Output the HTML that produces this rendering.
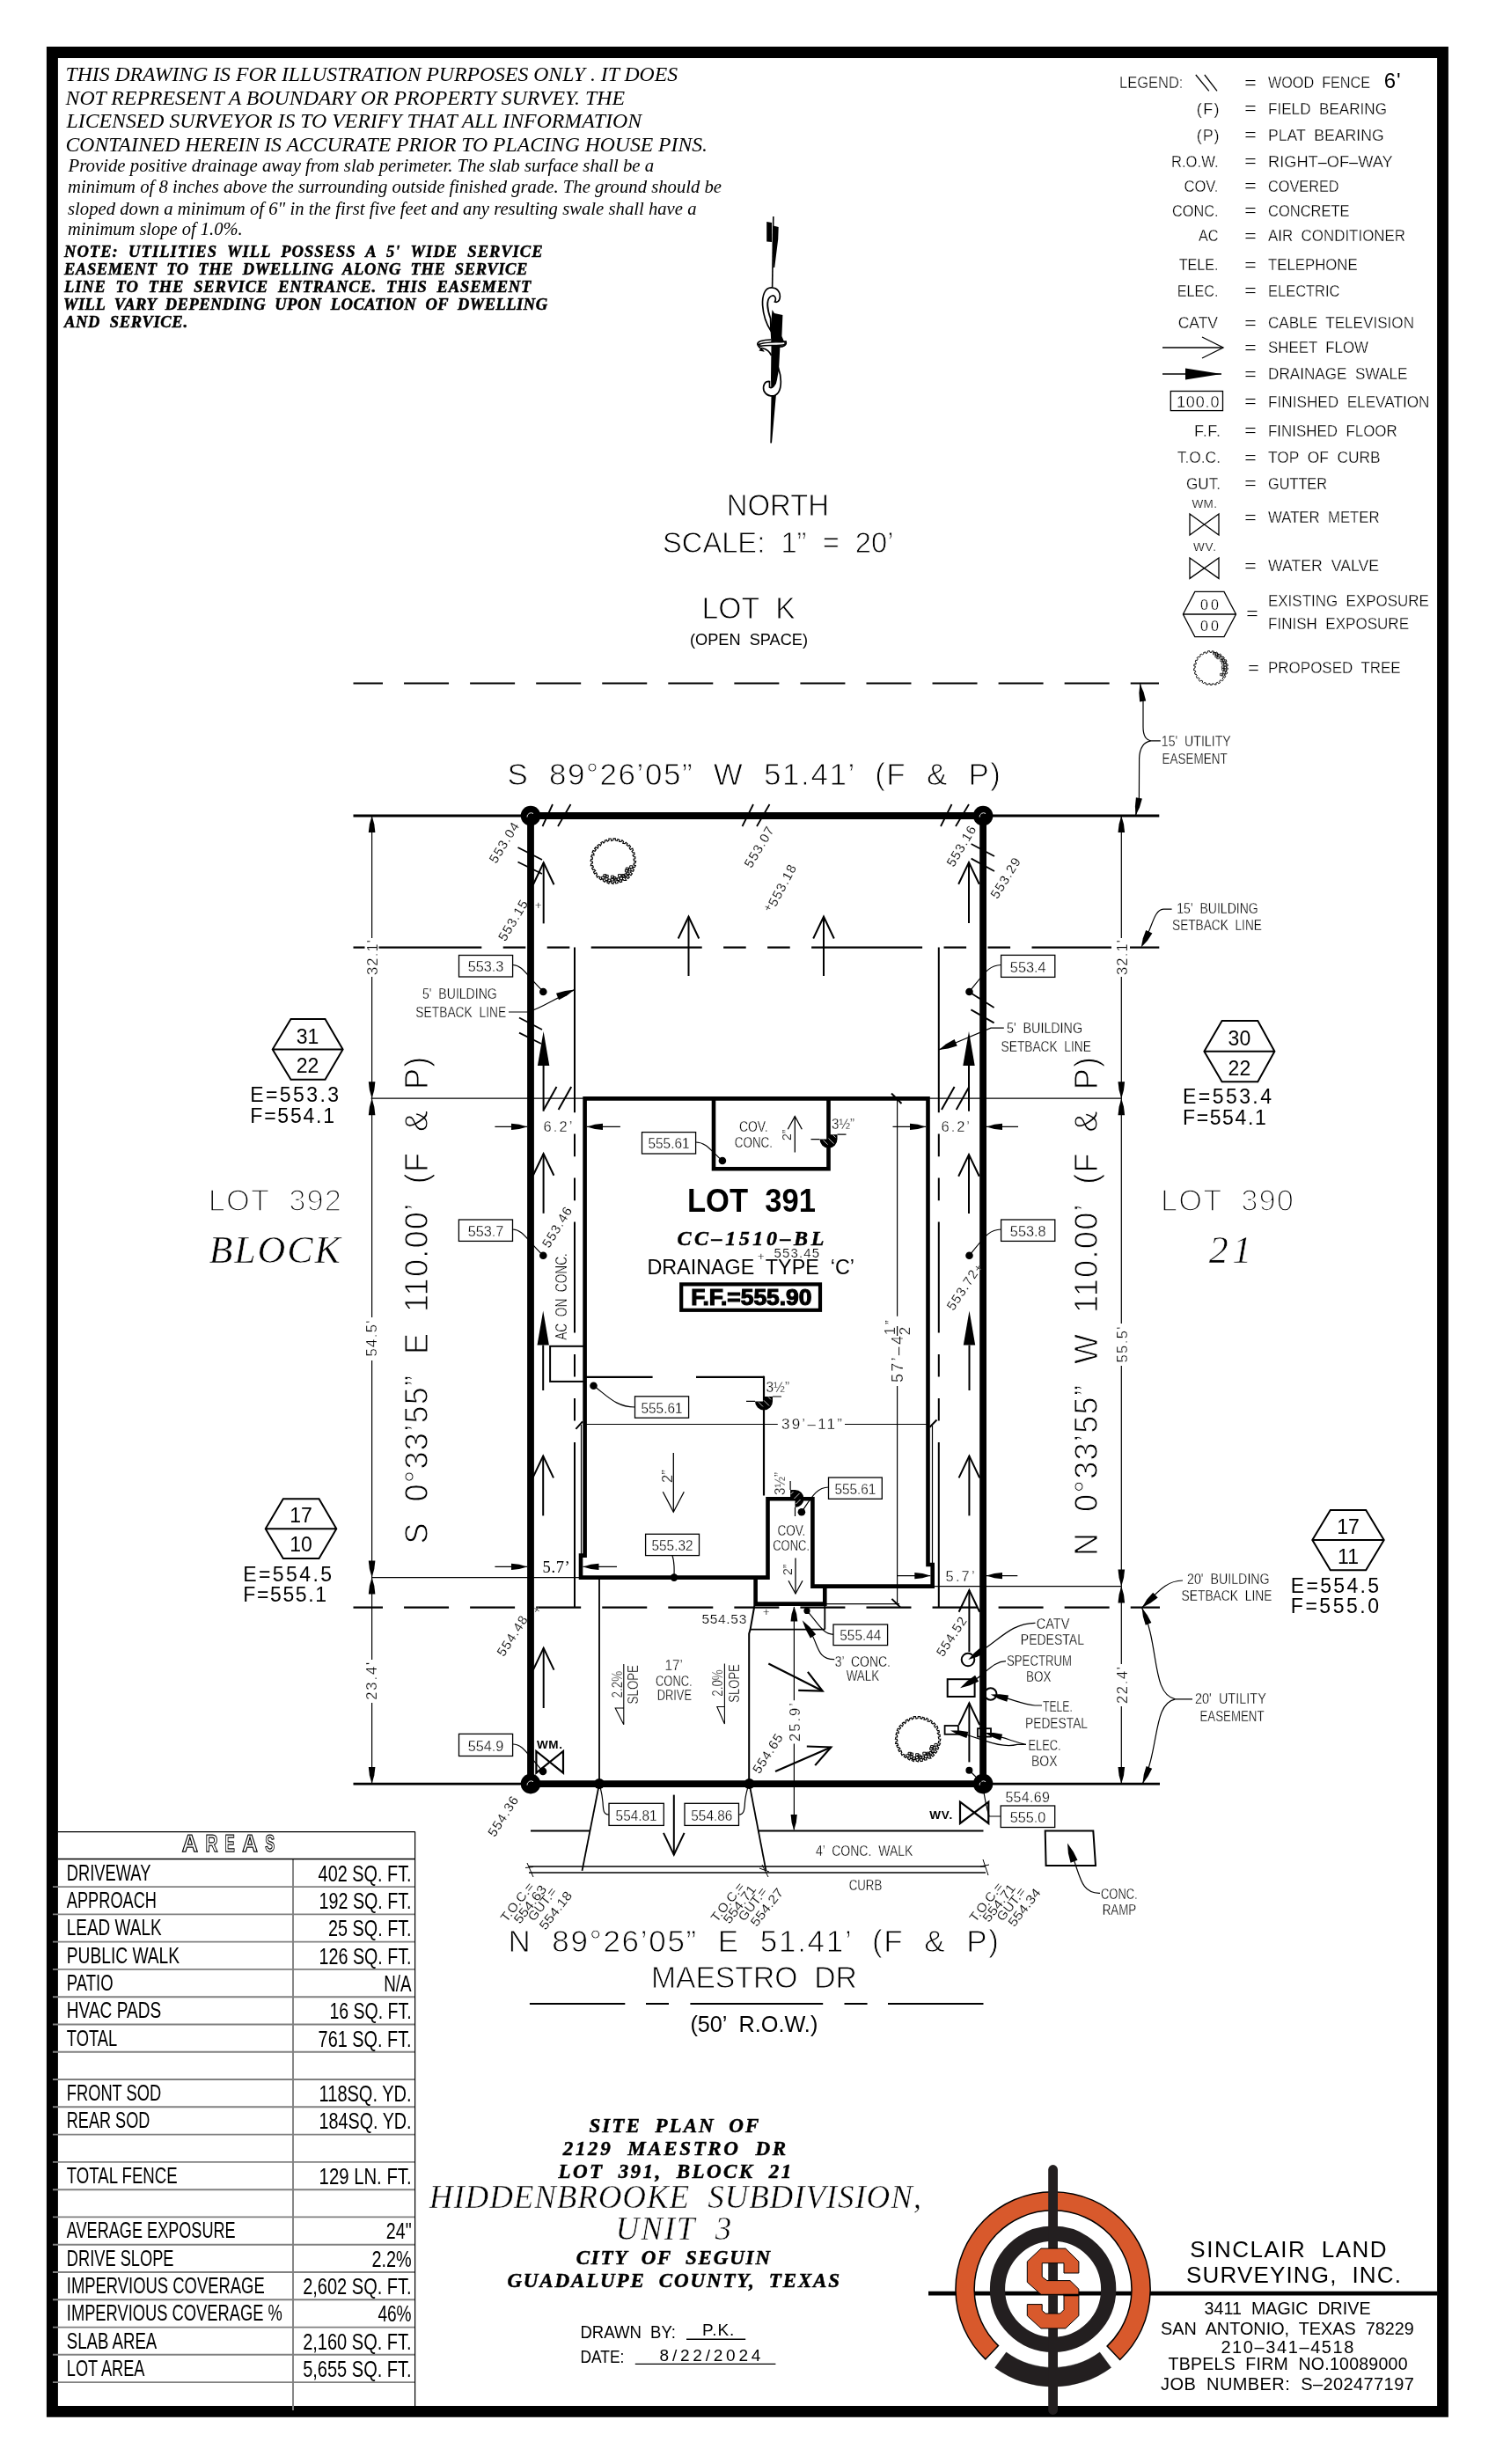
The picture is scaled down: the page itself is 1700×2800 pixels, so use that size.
<!DOCTYPE html>
<html><head><meta charset="utf-8"><title>Site Plan</title>
<style>
html,body{margin:0;padding:0;background:#fff;}
body{width:1700px;height:2800px;overflow:hidden;}
svg{display:block;will-change:transform;}
text{font-family:"Liberation Sans",sans-serif;fill:#000;stroke:none;white-space:pre;}
.c{fill:#000;stroke:#fff;stroke-width:0.3;}
.g{fill:#000;stroke:#fff;}
.b{font-weight:bold;}
.s{font-family:"Liberation Serif",serif;font-style:italic;}
.sb{font-family:"Liberation Serif",serif;font-style:italic;font-weight:bold;stroke:#000;stroke-width:0.5;}
.n{fill:#000;}
.r{font-family:"Liberation Serif",serif;}
</style></head><body>
<svg width="1700" height="2800" viewBox="0 0 1700 2800" stroke="#000" fill="none" stroke-linecap="butt">
<path d="M52.9 52.9H1645.9V2746.7H52.9Z M65.9 65.9V2734.1H1633.1V65.9Z" fill="#000" fill-rule="evenodd" stroke="none"/>
<text class="s" x="74.5" y="91.5" font-size="24" textLength="695.5" lengthAdjust="spacingAndGlyphs">THIS DRAWING IS FOR ILLUSTRATION PURPOSES ONLY . IT DOES</text>
<text class="s" x="74.5" y="118.6" font-size="24" textLength="635.5" lengthAdjust="spacingAndGlyphs">NOT REPRESENT A BOUNDARY OR PROPERTY SURVEY. THE</text>
<text class="s" x="75.5" y="145.4" font-size="24" textLength="653.5" lengthAdjust="spacingAndGlyphs">LICENSED SURVEYOR IS TO VERIFY THAT ALL INFORMATION</text>
<text class="s" x="74.5" y="171.5" font-size="24" textLength="729.5" lengthAdjust="spacingAndGlyphs">CONTAINED HEREIN IS ACCURATE PRIOR TO PLACING HOUSE PINS.</text>
<text class="s" x="77.5" y="195.4" font-size="21" textLength="665.7" lengthAdjust="spacingAndGlyphs">Provide positive drainage away from slab perimeter. The slab surface shall be a</text>
<text class="s" x="77.0" y="219.3" font-size="21" textLength="743.0" lengthAdjust="spacingAndGlyphs">minimum of 8 inches above the surrounding outside finished grade. The ground should be</text>
<text class="s" x="77.0" y="243.5" font-size="21" textLength="714.5" lengthAdjust="spacingAndGlyphs">sloped down a minimum of 6" in the first five feet and any resulting swale shall have a</text>
<text class="s" x="77.0" y="266.8" font-size="21" textLength="198.6" lengthAdjust="spacingAndGlyphs">minimum slope of 1.0%.</text>
<text class="sb" x="73.0" y="292.0" font-size="18.5" textLength="543.5" lengthAdjust="spacing">NOTE:  UTILITIES  WILL  POSSESS  A  5'  WIDE  SERVICE</text>
<text class="sb" x="73.0" y="312.3" font-size="18.5" textLength="526.4" lengthAdjust="spacing">EASEMENT  TO  THE  DWELLING  ALONG  THE  SERVICE</text>
<text class="sb" x="73.0" y="332.2" font-size="18.5" textLength="530.4" lengthAdjust="spacing">LINE  TO  THE  SERVICE  ENTRANCE.  THIS  EASEMENT</text>
<text class="sb" x="72.0" y="352.4" font-size="18.5" textLength="550.0" lengthAdjust="spacing">WILL  VARY  DEPENDING  UPON  LOCATION  OF  DWELLING</text>
<text class="sb" x="73.0" y="372.3" font-size="18.5" textLength="140.0" lengthAdjust="spacing">AND  SERVICE.</text>
<text class="c" x="1272.0" y="100.0" font-size="18" textLength="72.4" lengthAdjust="spacingAndGlyphs">LEGEND:</text>
<line x1="1358.8" y1="85.0" x2="1373.8" y2="103.4" stroke-width="1.3"/>
<line x1="1368.8" y1="85.0" x2="1383.0" y2="103.4" stroke-width="1.3"/>
<text class="c" x="1414.0" y="99.5" font-size="18" textLength="14.0" lengthAdjust="spacingAndGlyphs">=</text>
<text class="c" x="1441.0" y="100.0" font-size="18" textLength="116.0" lengthAdjust="spacingAndGlyphs">WOOD  FENCE</text>
<text class="n" x="1572.7" y="100.0" font-size="24" textLength="19.0" lengthAdjust="spacing">6'</text>
<text class="c" x="1359.8" y="129.5" font-size="18" textLength="25.7" lengthAdjust="spacing">(F)</text>
<text class="c" x="1414.0" y="129.0" font-size="18" textLength="14.0" lengthAdjust="spacingAndGlyphs">=</text>
<text class="c" x="1441.0" y="129.5" font-size="18" textLength="135.0" lengthAdjust="spacingAndGlyphs">FIELD  BEARING</text>
<text class="c" x="1359.8" y="159.6" font-size="18" textLength="25.7" lengthAdjust="spacing">(P)</text>
<text class="c" x="1414.0" y="159.1" font-size="18" textLength="14.0" lengthAdjust="spacingAndGlyphs">=</text>
<text class="c" x="1441.0" y="159.6" font-size="18" textLength="131.7" lengthAdjust="spacingAndGlyphs">PLAT  BEARING</text>
<text class="c" x="1331.0" y="189.7" font-size="18" textLength="53.5" lengthAdjust="spacingAndGlyphs">R.O.W.</text>
<text class="c" x="1414.0" y="189.2" font-size="18" textLength="14.0" lengthAdjust="spacingAndGlyphs">=</text>
<text class="c" x="1441.0" y="189.7" font-size="18" textLength="141.7" lengthAdjust="spacingAndGlyphs">RIGHT–OF–WAY</text>
<text class="c" x="1345.4" y="217.8" font-size="18" textLength="39.1" lengthAdjust="spacingAndGlyphs">COV.</text>
<text class="c" x="1414.0" y="217.3" font-size="18" textLength="14.0" lengthAdjust="spacingAndGlyphs">=</text>
<text class="c" x="1441.0" y="217.8" font-size="18" textLength="80.5" lengthAdjust="spacingAndGlyphs">COVERED</text>
<text class="c" x="1332.0" y="245.8" font-size="18" textLength="52.5" lengthAdjust="spacingAndGlyphs">CONC.</text>
<text class="c" x="1414.0" y="245.3" font-size="18" textLength="14.0" lengthAdjust="spacingAndGlyphs">=</text>
<text class="c" x="1441.0" y="245.8" font-size="18" textLength="92.6" lengthAdjust="spacingAndGlyphs">CONCRETE</text>
<text class="c" x="1362.0" y="274.0" font-size="18" textLength="22.5" lengthAdjust="spacingAndGlyphs">AC</text>
<text class="c" x="1414.0" y="273.5" font-size="18" textLength="14.0" lengthAdjust="spacingAndGlyphs">=</text>
<text class="c" x="1441.0" y="274.0" font-size="18" textLength="156.0" lengthAdjust="spacingAndGlyphs">AIR  CONDITIONER</text>
<text class="c" x="1339.7" y="307.0" font-size="18" textLength="44.8" lengthAdjust="spacingAndGlyphs">TELE.</text>
<text class="c" x="1414.0" y="306.5" font-size="18" textLength="14.0" lengthAdjust="spacingAndGlyphs">=</text>
<text class="c" x="1441.0" y="307.0" font-size="18" textLength="101.6" lengthAdjust="spacingAndGlyphs">TELEPHONE</text>
<text class="c" x="1337.7" y="336.7" font-size="18" textLength="46.8" lengthAdjust="spacingAndGlyphs">ELEC.</text>
<text class="c" x="1414.0" y="336.2" font-size="18" textLength="14.0" lengthAdjust="spacingAndGlyphs">=</text>
<text class="c" x="1441.0" y="336.7" font-size="18" textLength="81.5" lengthAdjust="spacingAndGlyphs">ELECTRIC</text>
<text class="c" x="1338.7" y="373.0" font-size="18" textLength="45.3" lengthAdjust="spacingAndGlyphs">CATV</text>
<text class="c" x="1414.0" y="372.5" font-size="18" textLength="14.0" lengthAdjust="spacingAndGlyphs">=</text>
<text class="c" x="1441.0" y="373.0" font-size="18" textLength="166.0" lengthAdjust="spacingAndGlyphs">CABLE  TELEVISION</text>
<text class="c" x="1414.0" y="400.5" font-size="18" textLength="14.0" lengthAdjust="spacingAndGlyphs">=</text>
<text class="c" x="1441.0" y="401.0" font-size="18" textLength="114.0" lengthAdjust="spacingAndGlyphs">SHEET  FLOW</text>
<line x1="1321.0" y1="395.0" x2="1390.0" y2="395.0" stroke-width="1.3"/>
<path d="M1366 383L1390 395L1366 407" stroke-width="1.3" fill="none"/>
<text class="c" x="1414.0" y="430.5" font-size="18" textLength="14.0" lengthAdjust="spacingAndGlyphs">=</text>
<text class="c" x="1441.0" y="431.0" font-size="18" textLength="158.4" lengthAdjust="spacingAndGlyphs">DRAINAGE  SWALE</text>
<line x1="1321.0" y1="425.0" x2="1388.0" y2="425.0" stroke-width="1.5"/>
<path d="M1388 425L1347 418.5L1347 431.5Z" fill="#000" stroke="none"/>
<text class="c" x="1414.0" y="462.0" font-size="18" textLength="14.0" lengthAdjust="spacingAndGlyphs">=</text>
<text class="c" x="1441.0" y="462.5" font-size="18" textLength="183.5" lengthAdjust="spacingAndGlyphs">FINISHED  ELEVATION</text>
<rect x="1330.3" y="444.5" width="59.2" height="22.1" stroke-width="1.3"/>
<text class="c" x="1337.0" y="462.5" font-size="18" textLength="48.5" lengthAdjust="spacing">100.0</text>
<text class="c" x="1357.0" y="495.6" font-size="18" textLength="30.0" lengthAdjust="spacing">F.F.</text>
<text class="c" x="1414.0" y="495.1" font-size="18" textLength="14.0" lengthAdjust="spacingAndGlyphs">=</text>
<text class="c" x="1441.0" y="495.6" font-size="18" textLength="146.7" lengthAdjust="spacingAndGlyphs">FINISHED  FLOOR</text>
<text class="c" x="1337.7" y="526.4" font-size="18" textLength="49.3" lengthAdjust="spacingAndGlyphs">T.O.C.</text>
<text class="c" x="1414.0" y="525.9" font-size="18" textLength="14.0" lengthAdjust="spacingAndGlyphs">=</text>
<text class="c" x="1441.0" y="526.4" font-size="18" textLength="127.6" lengthAdjust="spacingAndGlyphs">TOP  OF  CURB</text>
<text class="c" x="1348.0" y="555.8" font-size="18" textLength="39.0" lengthAdjust="spacingAndGlyphs">GUT.</text>
<text class="c" x="1414.0" y="555.3" font-size="18" textLength="14.0" lengthAdjust="spacingAndGlyphs">=</text>
<text class="c" x="1441.0" y="555.8" font-size="18" textLength="67.0" lengthAdjust="spacingAndGlyphs">GUTTER</text>
<text class="c" x="1354.4" y="576.5" font-size="13.5" textLength="28.6" lengthAdjust="spacing" style="stroke-width:0.2">WM.</text>
<path d="M1352 584L1385 608L1385 584L1352 608Z" stroke-width="1.3" fill="none"/>
<text class="c" x="1414.0" y="593.5" font-size="18" textLength="14.0" lengthAdjust="spacingAndGlyphs">=</text>
<text class="c" x="1441.0" y="594.0" font-size="18" textLength="126.6" lengthAdjust="spacingAndGlyphs">WATER  METER</text>
<text class="c" x="1356.0" y="625.6" font-size="13.5" textLength="26.0" lengthAdjust="spacing" style="stroke-width:0.2">WV.</text>
<path d="M1352 634L1385 657.4L1385 634L1352 657.4Z" stroke-width="1.3" fill="none"/>
<text class="c" x="1414.0" y="648.5" font-size="18" textLength="14.0" lengthAdjust="spacingAndGlyphs">=</text>
<text class="c" x="1441.0" y="649.0" font-size="18" textLength="126.0" lengthAdjust="spacingAndGlyphs">WATER  VALVE</text>
<path d="M1344.4 698L1357.8 672.4L1391 672.4L1404.5 698L1391 723.6L1357.8 723.6Z M1344.4 698L1404.5 698" stroke-width="1.3" fill="none"/>
<text class="c" x="1364.0" y="692.5" font-size="16" textLength="21.0" lengthAdjust="spacing">00</text>
<text class="c" x="1364.0" y="716.6" font-size="16" textLength="21.0" lengthAdjust="spacing">00</text>
<text class="c" x="1416.0" y="703.0" font-size="18" textLength="14.0" lengthAdjust="spacingAndGlyphs">=</text>
<text class="c" x="1441.0" y="689.0" font-size="18" textLength="182.8" lengthAdjust="spacingAndGlyphs">EXISTING  EXPOSURE</text>
<text class="c" x="1441.0" y="715.0" font-size="18" textLength="160.0" lengthAdjust="spacingAndGlyphs">FINISH  EXPOSURE</text>
<path d="M1395.4 759.2L1394.8 761.3L1393.7 761.4L1393.2 763.4L1394.9 764.1L1393.9 766.0L1392.2 765.6L1391.9 767.7L1392.8 768.4L1391.7 770.3L1390.1 769.4L1389.1 771.2L1390.2 772.5L1388.6 774.1L1387.1 772.6L1385.7 774.1L1386.5 775.8L1384.6 776.8L1383.6 775.3L1381.8 776.2L1382.1 778.1L1379.8 777.7L1379.4 776.9L1377.3 777.0L1377.2 778.4L1375.0 778.1L1374.9 776.7L1372.8 777.2L1372.4 778.2L1370.3 777.6L1370.5 776.2L1368.6 775.5L1367.7 776.9L1366.1 775.3L1366.7 773.9L1364.8 773.1L1363.5 774.4L1362.2 772.5L1363.2 771.2L1361.5 770.0L1360.2 770.7L1359.4 768.6L1360.3 767.8L1359.2 766.1L1358.0 766.3L1357.4 764.2L1358.8 763.6L1357.9 761.7L1356.4 761.7L1356.9 759.4L1357.9 759.2L1358.4 757.2L1356.7 756.8L1357.1 754.6L1359.1 754.9L1359.2 752.8L1358.2 752.1L1358.9 750.1L1360.3 750.6L1361.2 748.8L1360.0 747.6L1361.9 746.3L1363.0 747.0L1364.3 745.4L1363.5 744.1L1365.5 743.1L1366.4 744.0L1368.0 742.7L1367.7 741.5L1369.8 740.9L1370.6 742.7L1372.4 741.4L1372.3 739.9L1374.5 739.6L1374.9 741.3L1376.9 741.4L1377.2 739.8L1379.4 740.1L1379.3 742.2L1381.3 742.0L1382.0 740.9L1383.8 742.0L1383.4 743.5L1385.6 743.7L1386.3 742.9L1388.0 744.4L1387.2 745.6L1389.2 746.5L1390.0 746.0L1391.4 747.7L1390.4 748.8L1391.9 750.2L1393.3 749.7L1394.0 751.8L1392.3 752.7L1393.3 754.5L1394.8 754.4L1395.3 756.5L1393.9 756.9L1393.8 759.0Z" stroke-width="0.95" fill="none"/>
<path d="M1378.5 741.5l2.8 0l0 2.4l-2.8 0zM1381.4 742.8l2.8 0l0 2.4l-2.8 0zM1380.9 744.6l2.8 0l0 2.4l-2.8 0zM1383.7 744.3l2.8 0l0 2.4l-2.8 0zM1382.8 746.3l2.8 0l0 2.4l-2.8 0zM1387.2 746.6l2.8 0l0 2.4l-2.8 0zM1388.5 748.9l2.8 0l0 2.4l-2.8 0zM1386.8 749.4l2.8 0l0 2.4l-2.8 0zM1390.4 751.7l2.8 0l0 2.4l-2.8 0zM1388.3 752.6l2.8 0l0 2.4l-2.8 0zM1390.7 754.2l2.8 0l0 2.4l-2.8 0zM1390.7 757.4l2.8 0l0 2.4l-2.8 0zM1388.4 756.8l2.8 0l0 2.4l-2.8 0zM1390.6 759.9l2.8 0l0 2.4l-2.8 0zM1388.6 759.4l2.8 0l0 2.4l-2.8 0zM1389.7 762.8l2.8 0l0 2.4l-2.8 0zM1388.6 765.8l2.8 0l0 2.4l-2.8 0zM1386.5 765.3l2.8 0l0 2.4l-2.8 0z" stroke-width="0.75" fill="none"/>
<text class="c" x="1418.0" y="764.5" font-size="18" textLength="13.0" lengthAdjust="spacingAndGlyphs">=</text>
<text class="c" x="1441.0" y="765.0" font-size="18" textLength="150.7" lengthAdjust="spacingAndGlyphs">PROPOSED  TREE</text>
<line x1="878.8" y1="246.0" x2="877.6" y2="328.0" stroke-width="1.6"/>
<path d="M871.2 252L877 253L877 275L871.2 274.5Z M878.8 256.5L884.7 258L884.2 272L880.2 304L878.6 304Z" fill="#000" stroke="none"/>
<path d="M877.5 352L880 356L889.4 358L888.4 382L891 388L886.5 392L884.5 430L881.8 450L877 503.5L875.3 503.5L876.5 450L876 430L876.5 392L875.5 374Z" fill="#000" stroke="none"/>
<path d="M877.6 327C869 326 866 336 866.6 347C867.5 360 872 370 876 376L875.6 362C872 352 871 342 874.5 338C879 333 883 338 880.5 343C886 345 888.5 336 884 330C882 327.5 879.5 327 877.6 327Z" stroke-width="1.7" fill="#fff"/>
<path d="M876 386C866 386 860.8 388.5 860.8 391C861 394 866 397 867 398.5L864 398L866 395.5C872 397 875 400 876.5 404 M861.5 392C866 389.5 880 389.5 893 388C894.5 392 890 394.5 884 394" stroke-width="1.7" fill="none"/>
<path d="M863 391.3C870 388 885 389.5 892 388.3L892 391.5C884 393.5 870 391.5 864 393.5Z" fill="#fff" stroke="#000" stroke-width="1.4"/>
<path d="M884.5 418C888 428 888.5 440 884.5 446C880 452 871.5 451 868 444C866.5 438 869 433 874.5 433.5L874.5 440C877 442 881.5 438 882 432Z" stroke-width="1.7" fill="#fff"/>
<text class="c" x="825.7" y="586.0" font-size="34.5" textLength="116.3" lengthAdjust="spacingAndGlyphs" style="stroke-width:0.90">NORTH</text>
<text class="c" x="753.0" y="627.8" font-size="33" textLength="262.5" lengthAdjust="spacingAndGlyphs" style="stroke-width:0.86">SCALE:  1”  =  20’</text>
<text class="c" x="797.6" y="703.4" font-size="34.5" textLength="106.1" lengthAdjust="spacingAndGlyphs" style="stroke-width:0.90">LOT  K</text>
<text class="n" x="784.0" y="733.2" font-size="19" textLength="134.0" lengthAdjust="spacingAndGlyphs">(OPEN  SPACE)</text>
<line x1="401.5" y1="776.5" x2="1317" y2="776.5" stroke-width="2.2" stroke-dasharray="51 24.06" stroke-dashoffset="17.5"/>
<line x1="401.5" y1="1076.6" x2="1317.3" y2="1076.6" stroke-width="2.2" stroke-dasharray="145.8 24.4 25.6 24.4 25.6 24.4 126 24.4 25.6 24.4 25.6 24.4 126 24.4 25.6 24.4 25.6 24.4 146"/>
<line x1="401.5" y1="1826.6" x2="1318" y2="1826.6" stroke-width="2.2" stroke-dasharray="51 24.06" stroke-dashoffset="17.5"/>
<line x1="653" y1="1076.6" x2="653" y2="1826.6" stroke-width="2" stroke-dasharray="187.6 24.4 25.6 24.4 25.6 24.4 126 24.4 25.6 24.4 25.6 24.4 188"/>
<line x1="1066.8" y1="1076.6" x2="1066.8" y2="1826.6" stroke-width="2" stroke-dasharray="187.6 24.4 25.6 24.4 25.6 24.4 126 24.4 25.6 24.4 25.6 24.4 188"/>
<line x1="421.6" y1="1248.2" x2="664.0" y2="1248.2" stroke-width="1.2"/>
<line x1="1054.5" y1="1248.2" x2="1274.6" y2="1248.2" stroke-width="1.2"/>
<line x1="422.0" y1="1792.6" x2="660.0" y2="1792.6" stroke-width="1.2"/>
<line x1="1059.7" y1="1802.6" x2="1274.6" y2="1802.6" stroke-width="1.2"/>
<line x1="422.6" y1="927.0" x2="422.6" y2="1066.0" stroke-width="1.2"/>
<line x1="422.6" y1="1110.0" x2="422.6" y2="1497.0" stroke-width="1.2"/>
<line x1="422.6" y1="1546.0" x2="422.6" y2="1886.0" stroke-width="1.2"/>
<line x1="422.6" y1="1935.0" x2="422.6" y2="2027.0" stroke-width="1.2"/>
<path d="M422.6 927.0L425.3 936.5L426.4 946.0L418.8 946.0L419.9 936.5Z" fill="#000" stroke="none"/>
<path d="M422.6 1248.2L419.9 1238.7L418.8 1229.2L426.4 1229.2L425.3 1238.7Z" fill="#000" stroke="none"/>
<path d="M422.6 1248.2L425.3 1257.7L426.4 1267.2L418.8 1267.2L419.9 1257.7Z" fill="#000" stroke="none"/>
<path d="M422.6 1792.6L419.9 1783.1L418.8 1773.6L426.4 1773.6L425.3 1783.1Z" fill="#000" stroke="none"/>
<path d="M422.6 1792.6L425.3 1802.1L426.4 1811.6L418.8 1811.6L419.9 1802.1Z" fill="#000" stroke="none"/>
<path d="M422.6 2027.0L419.9 2017.5L418.8 2008.0L426.4 2008.0L425.3 2017.5Z" fill="#000" stroke="none"/>
<rect x="414.5" y="1072" width="16" height="9" fill="#fff" stroke="none"/>
<text class="c" font-size="16.5" text-anchor="middle" textLength="40.0" lengthAdjust="spacing" transform="translate(422.8 1088.0) rotate(-90)" x="0" y="5.9">32.1'</text>
<text class="c" font-size="16.5" text-anchor="middle" textLength="41.0" lengthAdjust="spacing" transform="translate(422.3 1521.0) rotate(-90)" x="0" y="5.9">54.5'</text>
<text class="c" font-size="16.5" text-anchor="middle" textLength="43.0" lengthAdjust="spacing" transform="translate(422.3 1910.3) rotate(-90)" x="0" y="5.9">23.4'</text>
<line x1="1274.3" y1="927.0" x2="1274.3" y2="1066.0" stroke-width="1.2"/>
<line x1="1274.3" y1="1110.0" x2="1274.3" y2="1504.0" stroke-width="1.2"/>
<line x1="1274.3" y1="1552.0" x2="1274.3" y2="1802.6" stroke-width="1.2"/>
<line x1="1274.3" y1="1802.6" x2="1274.3" y2="1891.0" stroke-width="1.2"/>
<line x1="1274.3" y1="1939.0" x2="1274.3" y2="2027.0" stroke-width="1.2"/>
<path d="M1274.3 927.0L1277.0 936.5L1278.1 946.0L1270.5 946.0L1271.6 936.5Z" fill="#000" stroke="none"/>
<path d="M1274.3 1248.2L1271.6 1238.7L1270.5 1229.2L1278.1 1229.2L1277.0 1238.7Z" fill="#000" stroke="none"/>
<path d="M1274.3 1248.2L1277.0 1257.7L1278.1 1267.2L1270.5 1267.2L1271.6 1257.7Z" fill="#000" stroke="none"/>
<path d="M1274.3 1802.6L1271.6 1793.1L1270.5 1783.6L1278.1 1783.6L1277.0 1793.1Z" fill="#000" stroke="none"/>
<path d="M1274.3 1802.6L1277.0 1812.1L1278.1 1821.6L1270.5 1821.6L1271.6 1812.1Z" fill="#000" stroke="none"/>
<path d="M1274.3 2027.0L1271.6 2017.5L1270.5 2008.0L1278.1 2008.0L1277.0 2017.5Z" fill="#000" stroke="none"/>
<rect x="1263" y="1072" width="21" height="9" fill="#fff" stroke="none"/>
<text class="c" font-size="16.5" text-anchor="middle" textLength="40.0" lengthAdjust="spacing" transform="translate(1274.8 1088.0) rotate(-90)" x="0" y="5.9">32.1'</text>
<text class="c" font-size="16.5" text-anchor="middle" textLength="41.0" lengthAdjust="spacing" transform="translate(1274.6 1528.0) rotate(-90)" x="0" y="5.9">55.5'</text>
<text class="c" font-size="16.5" text-anchor="middle" textLength="42.0" lengthAdjust="spacing" transform="translate(1274.6 1915.0) rotate(-90)" x="0" y="5.9">22.4'</text>
<line x1="401.5" y1="927.0" x2="603.0" y2="927.0" stroke-width="2.8"/>
<line x1="1117.0" y1="927.0" x2="1317.3" y2="927.0" stroke-width="2.8"/>
<line x1="401.5" y1="2027.1" x2="603.0" y2="2027.1" stroke-width="2.8"/>
<line x1="1117.0" y1="2027.1" x2="1318.0" y2="2027.1" stroke-width="2.8"/>
<path d="M603 927H1117.1V2027.1H603Z" stroke-width="7.8"/>
<circle cx="603" cy="927" r="11.3" fill="#000" stroke="none"/>
<path d="M599.0 928.5a4.5 4.5 0 0 1 7 -4" stroke="#fff" stroke-width="0.9"/>
<circle cx="1117.1" cy="927" r="11.3" fill="#000" stroke="none"/>
<path d="M1113.1 928.5a4.5 4.5 0 0 1 7 -4" stroke="#fff" stroke-width="0.9"/>
<circle cx="603" cy="2027.1" r="11.3" fill="#000" stroke="none"/>
<path d="M599.0 2028.6a4.5 4.5 0 0 1 7 -4" stroke="#fff" stroke-width="0.9"/>
<circle cx="1117.1" cy="2027.1" r="11.3" fill="#000" stroke="none"/>
<path d="M1113.1 2028.6a4.5 4.5 0 0 1 7 -4" stroke="#fff" stroke-width="0.9"/>
<text class="c" x="576.4" y="892.0" font-size="35" textLength="560.6" lengthAdjust="spacing" style="stroke-width:0.91">S  89°26’05”  W  51.41’  (F  &amp;  P)</text>
<text class="c" x="577.5" y="2218.0" font-size="35" textLength="557.5" lengthAdjust="spacing" style="stroke-width:0.91">N  89°26’05”  E  51.41’  (F  &amp;  P)</text>
<text class="c" x="486.0" y="1754.4" font-size="36" textLength="553.6" lengthAdjust="spacing" transform="rotate(-90 486.0 1754.4)" style="stroke-width:0.94">S  0°33’55”  E  110.00’  (F  &amp;  P)</text>
<text class="c" x="1246.8" y="1768.0" font-size="36" textLength="567.0" lengthAdjust="spacing" transform="rotate(-90 1246.8 1768.0)" style="stroke-width:0.94">N  0°33’55”  W  110.00’  (F  &amp;  P)</text>
<path d="M664.6 1248.4H1054.5V1778H1059.7V1802.6H923.4V1703.2H872.5V1792.6H660V1767.6H664.6Z" stroke-width="4.6" fill="none" stroke-linejoin="miter"/>
<path d="M811 1248.4V1328.3H941.5V1248.4" stroke-width="4.6" fill="none"/>
<path d="M858.6 1792.6V1822.6H937.3V1802.6" stroke-width="4.6" fill="none"/>
<line x1="660.5" y1="1618.8" x2="660.5" y2="1767.6" stroke-width="1.2"/>
<line x1="1059.5" y1="1620.0" x2="1059.5" y2="1778.0" stroke-width="1.2"/>
<line x1="664.0" y1="1564.8" x2="741.6" y2="1564.8" stroke-width="2.2"/>
<line x1="791.0" y1="1564.8" x2="868.0" y2="1564.8" stroke-width="2.2"/>
<line x1="868.0" y1="1563.7" x2="868.0" y2="1699.5" stroke-width="2.2"/>
<rect x="625.1" y="1529.8" width="39" height="40.1" stroke-width="2"/>
<text class="c" x="644.1" y="1522.8" font-size="18" textLength="98.7" lengthAdjust="spacingAndGlyphs" transform="rotate(-90 644.1 1522.8)">AC  ON  CONC.</text>
<line x1="664.0" y1="1618.5" x2="883.8" y2="1618.5" stroke-width="1.2"/>
<line x1="960.0" y1="1618.5" x2="1054.5" y2="1618.5" stroke-width="1.2"/>
<line x1="654.4" y1="1623.9" x2="662.0" y2="1615.4" stroke-width="2"/>
<line x1="1056.5" y1="1621.7" x2="1064.5" y2="1613.5" stroke-width="2"/>
<text class="c" x="887.9" y="1624.4" font-size="17" textLength="69.1" lengthAdjust="spacing">39’–11”</text>
<line x1="1019.6" y1="1248.4" x2="1019.6" y2="1495.7" stroke-width="1.2"/>
<line x1="1019.6" y1="1574.9" x2="1019.6" y2="1822.7" stroke-width="1.2"/>
<line x1="1013.0" y1="1242.5" x2="1024.5" y2="1254.0" stroke-width="2"/>
<line x1="1013.4" y1="1816.9" x2="1023.0" y2="1826.4" stroke-width="2"/>
<line x1="937.3" y1="1822.7" x2="1022.0" y2="1822.7" stroke-width="1.2"/>
<text class="c" x="1026.1" y="1570.9" font-size="18" textLength="53.0" lengthAdjust="spacing" transform="rotate(-90 1026.1 1570.9)">57’–4</text>
<text class="c" x="1017.4" y="1517.2" font-size="17" transform="rotate(-90 1017.4 1517.2)">1</text>
<text class="c" x="1033.8" y="1517.2" font-size="17" transform="rotate(-90 1033.8 1517.2)">2</text>
<line x1="1019.6" y1="1507.0" x2="1019.6" y2="1518.0" stroke-width="1.2"/>
<text class="c" x="1015.5" y="1505.0" font-size="14" transform="rotate(-90 1015.5 1505.0)" style="stroke-width:0.2">”</text>
<text class="b" x="781.0" y="1377.0" font-size="36" textLength="146.0" lengthAdjust="spacingAndGlyphs">LOT  391</text>
<text class="sb" x="769.4" y="1415.2" font-size="24" textLength="166.9" lengthAdjust="spacing">CC–1510–BL</text>
<text class="n" x="735.4" y="1447.6" font-size="23" textLength="235.6" lengthAdjust="spacingAndGlyphs">DRAINAGE  TYPE  ‘C’</text>
<text class="c" x="879.6" y="1429.0" font-size="15" textLength="51.4" lengthAdjust="spacing" style="stroke-width:0.2">553.45</text>
<text class="c" x="861.0" y="1432.0" font-size="13" style="stroke-width:0.2">+</text>
<rect x="774.2" y="1459.4" width="157.8" height="29.4" stroke-width="4.2"/>
<text class="b" x="785.2" y="1483.4" font-size="26.5" textLength="137.3" lengthAdjust="spacingAndGlyphs" style="stroke:#000;stroke-width:1.2">F.F.=555.90</text>
<text class="c" x="840.0" y="1286.0" font-size="17" textLength="32.7" lengthAdjust="spacingAndGlyphs">COV.</text>
<text class="c" x="834.8" y="1304.0" font-size="17" textLength="43.2" lengthAdjust="spacingAndGlyphs">CONC.</text>
<text class="c" x="883.4" y="1745.0" font-size="17" textLength="32.0" lengthAdjust="spacingAndGlyphs">COV.</text>
<text class="c" x="878.2" y="1762.4" font-size="17" textLength="41.8" lengthAdjust="spacingAndGlyphs">CONC.</text>
<line x1="903.3" y1="1309.6" x2="903.3" y2="1268.5" stroke-width="1.3"/>
<path d="M911.3 1283.2L903.3 1268.5L895.3 1283.2" stroke-width="1.3" fill="none"/>
<text class="c" x="899.0" y="1296.0" font-size="14" transform="rotate(-90 899.0 1296.0)" style="stroke-width:0.2">2”</text>
<line x1="765.3" y1="1651.0" x2="765.3" y2="1718.2" stroke-width="1.3"/>
<path d="M753.3 1695.2L765.3 1718.2L777.3 1695.2" stroke-width="1.3" fill="none"/>
<text class="c" x="764.0" y="1685.0" font-size="16.5" transform="rotate(-90 764.0 1685.0)">2”</text>
<line x1="904.0" y1="1770.4" x2="904.0" y2="1811.0" stroke-width="1.3"/>
<path d="M896.0 1796.3L904.0 1811.0L912.0 1796.3" stroke-width="1.3" fill="none"/>
<text class="c" x="899.5" y="1790.0" font-size="14" transform="rotate(-90 899.5 1790.0)" style="stroke-width:0.2">2”</text>
<g transform="translate(941.5 1294.6) rotate(0)"><path d="M-10 0A10 10 0 0 0 10 0V-5.4H0V0Z" fill="#000" stroke="none"/><path d="M-6 1l5 5M0 -1l6 6M5 -5l3 3" stroke="#fff" stroke-width="0.8"/><path d="M-20 0H-10M10 -5.4H20" stroke-width="1.2"/></g>
<g transform="translate(868 1592.4) rotate(0)"><path d="M-10 0A10 10 0 0 0 10 0V-5.4H0V0Z" fill="#000" stroke="none"/><path d="M-6 1l5 5M0 -1l6 6M5 -5l3 3" stroke="#fff" stroke-width="0.8"/><path d="M-20 0H-10M10 -5.4H20" stroke-width="1.2"/></g>
<g transform="translate(903.5 1703) rotate(-90)"><path d="M-10 0A10 10 0 0 0 10 0V-5.4H0V0Z" fill="#000" stroke="none"/><path d="M-6 1l5 5M0 -1l6 6M5 -5l3 3" stroke="#fff" stroke-width="0.8"/><path d="M-20 0H-10M10 -5.4H20" stroke-width="1.2"/></g>
<text class="c" x="945.0" y="1282.5" font-size="17" textLength="26.0" lengthAdjust="spacingAndGlyphs">3½”</text>
<text class="c" x="870.5" y="1581.6" font-size="17" textLength="26.5" lengthAdjust="spacingAndGlyphs">3½”</text>
<text class="c" x="892.0" y="1699.0" font-size="17" textLength="26.0" lengthAdjust="spacingAndGlyphs" transform="rotate(-90 892.0 1699.0)">3½”</text>
<rect x="521.5" y="1085.5" width="61.1" height="24.5" fill="#fff" stroke-width="1.3"/>
<text class="c" x="552.0" y="1104.4" font-size="17" text-anchor="middle" textLength="40.7" lengthAdjust="spacingAndGlyphs">553.3</text>
<path d="M582.6 1096.5C594 1097 598 1108 617.3 1126.7" stroke-width="1.2" fill="none"/>
<circle cx="617.3" cy="1127.0" r="4.3" fill="#000" stroke="none"/>
<rect x="1137.6" y="1085.4" width="61.2" height="25.0" fill="#fff" stroke-width="1.3"/>
<text class="c" x="1168.2" y="1104.8" font-size="17" text-anchor="middle" textLength="40.7" lengthAdjust="spacingAndGlyphs">553.4</text>
<path d="M1137.6 1096.5C1124 1097 1120 1104 1101.5 1127" stroke-width="1.2" fill="none"/>
<circle cx="1101.5" cy="1127.0" r="4.3" fill="#000" stroke="none"/>
<rect x="521.4" y="1386.0" width="61.1" height="24.4" fill="#fff" stroke-width="1.3"/>
<text class="c" x="552.0" y="1404.8" font-size="17" text-anchor="middle" textLength="40.7" lengthAdjust="spacingAndGlyphs">553.7</text>
<path d="M582.5 1397C594 1397.5 598 1408 617.3 1426.7" stroke-width="1.2" fill="none"/>
<circle cx="617.3" cy="1426.7" r="4.3" fill="#000" stroke="none"/>
<rect x="1137.6" y="1386.0" width="61.2" height="24.4" fill="#fff" stroke-width="1.3"/>
<text class="c" x="1168.2" y="1404.8" font-size="17" text-anchor="middle" textLength="40.7" lengthAdjust="spacingAndGlyphs">553.8</text>
<path d="M1137.6 1397C1124 1397.5 1120 1404 1101.5 1426.7" stroke-width="1.2" fill="none"/>
<circle cx="1101.5" cy="1426.7" r="4.3" fill="#000" stroke="none"/>
<rect x="729.5" y="1286.6" width="61.1" height="24.4" fill="#fff" stroke-width="1.3"/>
<text class="c" x="760.0" y="1305.4" font-size="17" text-anchor="middle" textLength="47.0" lengthAdjust="spacingAndGlyphs">555.61</text>
<path d="M790.6 1298C803 1298 808 1308 820.9 1319" stroke-width="1.2" fill="none"/>
<circle cx="820.9" cy="1319.0" r="4.3" fill="#000" stroke="none"/>
<rect x="721.5" y="1586.8" width="61.1" height="24.4" fill="#fff" stroke-width="1.3"/>
<text class="c" x="752.0" y="1605.6" font-size="17" text-anchor="middle" textLength="47.0" lengthAdjust="spacingAndGlyphs">555.61</text>
<path d="M721.5 1599C700 1599 690 1586 674.5 1574.7" stroke-width="1.2" fill="none"/>
<circle cx="674.5" cy="1574.7" r="4.3" fill="#000" stroke="none"/>
<rect x="941.5" y="1679.0" width="60.8" height="24.3" fill="#fff" stroke-width="1.3"/>
<text class="c" x="971.9" y="1697.7" font-size="17" text-anchor="middle" textLength="47.0" lengthAdjust="spacingAndGlyphs">555.61</text>
<path d="M941.5 1690C928 1690 922 1702 910.9 1718.2" stroke-width="1.2" fill="none"/>
<circle cx="910.9" cy="1718.2" r="4.3" fill="#000" stroke="none"/>
<rect x="733.6" y="1743.3" width="60.9" height="24.3" fill="#fff" stroke-width="1.3"/>
<text class="c" x="764.0" y="1762.0" font-size="17" text-anchor="middle" textLength="47.0" lengthAdjust="spacingAndGlyphs">555.32</text>
<path d="M764 1767.6C767 1776 766 1784 766 1792.6" stroke-width="1.2" fill="none"/>
<circle cx="766.0" cy="1792.6" r="4.3" fill="#000" stroke="none"/>
<rect x="947.0" y="1846.0" width="61.6" height="23.6" fill="#fff" stroke-width="1.3"/>
<text class="c" x="977.8" y="1864.0" font-size="17" text-anchor="middle" textLength="47.0" lengthAdjust="spacingAndGlyphs">555.44</text>
<path d="M947 1857.3C935 1857 930 1845 917 1830.4" stroke-width="1.2" fill="none"/>
<circle cx="917.0" cy="1830.4" r="3.6" fill="#000" stroke="none"/>
<rect x="521.5" y="1970.4" width="61.1" height="25.1" fill="#fff" stroke-width="1.3"/>
<text class="c" x="552.0" y="1989.9" font-size="17" text-anchor="middle" textLength="40.7" lengthAdjust="spacingAndGlyphs">554.9</text>
<path d="M582.6 1982C594 1982 598 1992 617 2012.9" stroke-width="1.2" fill="none"/>
<circle cx="617.0" cy="2012.9" r="4.3" fill="#000" stroke="none"/>
<rect x="692.0" y="2049.3" width="62.3" height="25.1" fill="#fff" stroke-width="1.3"/>
<text class="c" x="723.1" y="2068.8" font-size="17" text-anchor="middle" textLength="47.0" lengthAdjust="spacingAndGlyphs">554.81</text>
<path d="M692 2062C686 2062 685.5 2058 685 2048C684.5 2040 683 2034 681 2027" stroke-width="1.2" fill="none"/>
<rect x="778.0" y="2049.3" width="61.5" height="25.1" fill="#fff" stroke-width="1.3"/>
<text class="c" x="808.8" y="2068.8" font-size="17" text-anchor="middle" textLength="47.0" lengthAdjust="spacingAndGlyphs">554.86</text>
<path d="M839.5 2062C845 2062 846 2058 846.5 2048C847 2040 849 2034 851 2027" stroke-width="1.2" fill="none"/>
<rect x="1137.2" y="2052.0" width="61.5" height="24.5" fill="#fff" stroke-width="1.3"/>
<text class="c" x="1168.0" y="2070.9" font-size="17" text-anchor="middle" textLength="40.7" lengthAdjust="spacingAndGlyphs">555.0</text>
<path d="M1137.2 2064L1124 2064C1120 2050 1118 2040 1117 2027" stroke-width="1.2" fill="none"/>
<text class="c" x="480.0" y="1135.4" font-size="17" textLength="84.8" lengthAdjust="spacingAndGlyphs">5'  BUILDING</text>
<text class="c" x="472.3" y="1155.6" font-size="17" textLength="102.9" lengthAdjust="spacingAndGlyphs">SETBACK  LINE</text>
<path d="M578 1150H600C615 1146 628 1136 653 1124.6" stroke-width="1.2" fill="none"/>
<path d="M653.0 1124.6L644.3 1131.2L635.0 1136.2L632.0 1128.8L642.2 1125.9Z" fill="#000" stroke="none"/>
<text class="c" x="1144.0" y="1174.0" font-size="17" textLength="86.0" lengthAdjust="spacingAndGlyphs">5'  BUILDING</text>
<text class="c" x="1137.6" y="1194.5" font-size="17" textLength="102.2" lengthAdjust="spacingAndGlyphs">SETBACK  LINE</text>
<path d="M1140.8 1168.2H1126L1066.8 1193" stroke-width="1.2" fill="none"/>
<path d="M1066.8 1193.0L1075.3 1186.2L1084.6 1181.1L1087.7 1188.5L1077.6 1191.5Z" fill="#000" stroke="none"/>
<text class="c" x="1319.8" y="847.6" font-size="17" textLength="78.9" lengthAdjust="spacingAndGlyphs">15'  UTILITY</text>
<text class="c" x="1320.5" y="867.7" font-size="17" textLength="74.2" lengthAdjust="spacingAndGlyphs">EASEMENT</text>
<path d="M1295.6 777L1299 797V826C1299 836 1303 841 1308 841.8H1318.8M1308 841.8C1300 843 1295 850 1294.6 862L1294.4 907L1290.6 927" stroke-width="1.2" fill="none"/>
<path d="M1295.4 776.8L1299.6 786.5L1302.2 796.5L1295.1 797.6L1294.4 787.3Z" fill="#000" stroke="none"/>
<path d="M1290.5 927.0L1289.9 916.4L1290.9 906.2L1297.9 907.6L1295.0 917.4Z" fill="#000" stroke="none"/>
<text class="c" x="1337.3" y="1037.6" font-size="17" textLength="92.5" lengthAdjust="spacingAndGlyphs">15'  BUILDING</text>
<text class="c" x="1332.0" y="1056.6" font-size="17" textLength="101.9" lengthAdjust="spacingAndGlyphs">SETBACK  LINE</text>
<path d="M1331.6 1033.2H1322C1312 1034 1310 1050 1303 1064" stroke-width="1.2" fill="none"/>
<path d="M1296.8 1076.6L1298.7 1066.4L1302.2 1056.9L1309.4 1060.5L1303.9 1069.0Z" fill="#000" stroke="none"/>
<text class="c" x="1349.0" y="1800.2" font-size="17" textLength="93.7" lengthAdjust="spacingAndGlyphs">20'  BUILDING</text>
<text class="c" x="1342.5" y="1819.3" font-size="17" textLength="103.0" lengthAdjust="spacingAndGlyphs">SETBACK  LINE</text>
<path d="M1344 1796C1325 1796 1315 1810 1297.6 1826.9" stroke-width="1.2" fill="none"/>
<path d="M1297.6 1826.9L1303.3 1817.6L1310.2 1809.7L1315.7 1815.5L1307.2 1821.8Z" fill="#000" stroke="none"/>
<text class="c" x="1358.0" y="1936.4" font-size="17" textLength="80.8" lengthAdjust="spacingAndGlyphs">20'  UTILITY</text>
<text class="c" x="1363.5" y="1956.0" font-size="17" textLength="73.0" lengthAdjust="spacingAndGlyphs">EASEMENT</text>
<path d="M1297.6 1826.9C1318 1870 1308 1925 1335.5 1930.8H1355M1335.5 1930.8C1310 1936 1318 1985 1298.4 2027" stroke-width="1.2" fill="none"/>
<path d="M1297.6 1826.9L1303.7 1835.2L1308.4 1844.1L1301.8 1846.8L1298.9 1837.1Z" fill="#000" stroke="none"/>
<path d="M1298.4 2027.0L1299.7 2016.8L1302.6 2007.1L1309.2 2009.8L1304.5 2018.7Z" fill="#000" stroke="none"/>
<line x1="616.5" y1="939.0" x2="628.0" y2="914.0" stroke-width="1.8"/>
<line x1="634.0" y1="939.0" x2="648.5" y2="914.0" stroke-width="1.8"/>
<line x1="843.5" y1="939.0" x2="856.0" y2="914.0" stroke-width="1.8"/>
<line x1="860.0" y1="939.0" x2="874.5" y2="914.0" stroke-width="1.8"/>
<line x1="1069.0" y1="939.0" x2="1081.5" y2="914.0" stroke-width="1.8"/>
<line x1="1086.0" y1="939.0" x2="1101.0" y2="914.0" stroke-width="1.8"/>
<line x1="590.0" y1="1156.5" x2="616.0" y2="1170.0" stroke-width="1.8"/>
<line x1="590.0" y1="1173.6" x2="615.0" y2="1186.0" stroke-width="1.8"/>
<line x1="588.5" y1="963.0" x2="616.0" y2="977.0" stroke-width="1.8"/>
<line x1="588.5" y1="979.5" x2="616.0" y2="993.0" stroke-width="1.8"/>
<line x1="1101.3" y1="1127.3" x2="1129.6" y2="1145.0" stroke-width="1.8"/>
<line x1="1103.4" y1="1147.4" x2="1129.6" y2="1162.4" stroke-width="1.8"/>
<line x1="1103.6" y1="959.0" x2="1130.0" y2="973.0" stroke-width="1.8"/>
<line x1="1103.6" y1="975.6" x2="1130.0" y2="990.0" stroke-width="1.8"/>
<line x1="617.9" y1="1261.0" x2="632.5" y2="1235.0" stroke-width="2"/>
<line x1="634.6" y1="1261.0" x2="649.2" y2="1235.0" stroke-width="2"/>
<line x1="1070.0" y1="1261.0" x2="1084.6" y2="1235.0" stroke-width="2"/>
<line x1="1086.7" y1="1261.0" x2="1101.3" y2="1235.0" stroke-width="2"/>
<line x1="617.6" y1="1262.8" x2="617.6" y2="1211.0" stroke-width="2"/>
<path d="M617.6 1172.0L624.3 1211.0L610.9 1211.0Z" fill="#000" stroke="none"/>
<line x1="1101.0" y1="1262.8" x2="1101.0" y2="1211.0" stroke-width="2"/>
<path d="M1101.0 1172.0L1107.7 1211.0L1094.3 1211.0Z" fill="#000" stroke="none"/>
<line x1="617.2" y1="1580.0" x2="617.2" y2="1528.5" stroke-width="2"/>
<path d="M617.2 1489.5L623.9 1528.5L610.5 1528.5Z" fill="#000" stroke="none"/>
<line x1="1101.5" y1="1580.0" x2="1101.5" y2="1528.5" stroke-width="2"/>
<path d="M1101.5 1489.5L1108.2 1528.5L1094.8 1528.5Z" fill="#000" stroke="none"/>
<line x1="617.7" y1="1049.4" x2="617.7" y2="980.4" stroke-width="2"/>
<path d="M629.5 1005.2L617.7 980.4L605.9 1005.2" stroke-width="2" fill="none"/>
<line x1="782.5" y1="1109.0" x2="782.5" y2="1041.7" stroke-width="2"/>
<path d="M794.3 1066.5L782.5 1041.7L770.7 1066.5" stroke-width="2" fill="none"/>
<line x1="936.0" y1="1109.0" x2="936.0" y2="1041.7" stroke-width="2"/>
<path d="M947.8 1066.5L936.0 1041.7L924.2 1066.5" stroke-width="2" fill="none"/>
<line x1="1101.0" y1="1049.0" x2="1101.0" y2="980.0" stroke-width="2"/>
<path d="M1112.8 1004.8L1101.0 980.0L1089.2 1004.8" stroke-width="2" fill="none"/>
<line x1="617.6" y1="1378.8" x2="617.6" y2="1311.0" stroke-width="2"/>
<path d="M629.4 1335.8L617.6 1311.0L605.8 1335.8" stroke-width="2" fill="none"/>
<line x1="1101.0" y1="1379.0" x2="1101.0" y2="1312.0" stroke-width="2"/>
<path d="M1112.8 1336.8L1101.0 1312.0L1089.2 1336.8" stroke-width="2" fill="none"/>
<line x1="617.2" y1="1722.4" x2="617.2" y2="1654.6" stroke-width="2"/>
<path d="M629.0 1679.4L617.2 1654.6L605.4 1679.4" stroke-width="2" fill="none"/>
<line x1="1101.4" y1="1722.4" x2="1101.4" y2="1654.6" stroke-width="2"/>
<path d="M1113.2 1679.4L1101.4 1654.6L1089.6 1679.4" stroke-width="2" fill="none"/>
<line x1="617.7" y1="1941.0" x2="617.7" y2="1872.8" stroke-width="2"/>
<path d="M629.5 1897.6L617.7 1872.8L605.9 1897.6" stroke-width="2" fill="none"/>
<line x1="1101.4" y1="1877.3" x2="1101.4" y2="1807.0" stroke-width="2"/>
<path d="M1113.2 1831.8L1101.4 1807.0L1089.6 1831.8" stroke-width="2" fill="none"/>
<line x1="1101.4" y1="2002.4" x2="1101.4" y2="1935.3" stroke-width="2"/>
<path d="M1113.2 1960.1L1101.4 1935.3L1089.6 1960.1" stroke-width="2" fill="none"/>
<line x1="873.3" y1="1890.4" x2="934.7" y2="1921.6" stroke-width="2.2"/>
<path d="M907.2 1920.9L934.7 1921.6L917.9 1899.8" stroke-width="2.2" fill="none"/>
<line x1="881.0" y1="2012.9" x2="944.3" y2="1985.4" stroke-width="2.2"/>
<path d="M926.2 2006.1L944.3 1985.4L916.8 1984.5" stroke-width="2.2" fill="none"/>
<line x1="765.8" y1="2039.6" x2="765.8" y2="2107.7" stroke-width="2"/>
<path d="M754.0 2082.9L765.8 2107.7L777.6 2082.9" stroke-width="2" fill="none"/>
<text class="c" x="617.6" y="1286.3" font-size="16.5" textLength="32.7" lengthAdjust="spacing">6.2’</text>
<text class="c" x="1069.5" y="1286.3" font-size="16.5" textLength="32.5" lengthAdjust="spacing">6.2’</text>
<line x1="562.4" y1="1280.4" x2="599.0" y2="1280.4" stroke-width="1.2"/>
<path d="M599.0 1280.4L590.0 1283.0L581.0 1284.0L581.0 1276.8L590.0 1277.8Z" fill="#000" stroke="none"/>
<line x1="667.0" y1="1280.4" x2="704.9" y2="1280.4" stroke-width="1.2"/>
<path d="M667.0 1280.4L676.0 1277.8L685.0 1276.8L685.0 1284.0L676.0 1283.0Z" fill="#000" stroke="none"/>
<line x1="1014.5" y1="1280.4" x2="1052.0" y2="1280.4" stroke-width="1.2"/>
<path d="M1052.0 1280.4L1043.0 1283.0L1034.0 1284.0L1034.0 1276.8L1043.0 1277.8Z" fill="#000" stroke="none"/>
<line x1="1121.0" y1="1280.4" x2="1157.0" y2="1280.4" stroke-width="1.2"/>
<path d="M1121.0 1280.4L1130.0 1277.8L1139.0 1276.8L1139.0 1284.0L1130.0 1283.0Z" fill="#000" stroke="none"/>
<text class="r" x="616.6" y="1786.5" font-size="18.5" textLength="31.1" lengthAdjust="spacing">5.7’</text>
<text class="c" x="1074.6" y="1796.5" font-size="16.5" textLength="33.0" lengthAdjust="spacing">5.7’</text>
<line x1="562.4" y1="1780.4" x2="599.0" y2="1780.4" stroke-width="1.2"/>
<path d="M599.0 1780.4L590.0 1783.0L581.0 1784.0L581.0 1776.8L590.0 1777.8Z" fill="#000" stroke="none"/>
<line x1="662.5" y1="1780.4" x2="701.0" y2="1780.4" stroke-width="1.2"/>
<path d="M662.5 1780.4L671.5 1777.8L680.5 1776.8L680.5 1784.0L671.5 1783.0Z" fill="#000" stroke="none"/>
<line x1="1019.7" y1="1790.6" x2="1057.3" y2="1790.6" stroke-width="1.2"/>
<path d="M1057.3 1790.6L1048.3 1793.2L1039.3 1794.2L1039.3 1787.0L1048.3 1788.0Z" fill="#000" stroke="none"/>
<line x1="1121.0" y1="1790.6" x2="1156.3" y2="1790.6" stroke-width="1.2"/>
<path d="M1121.0 1790.6L1130.0 1788.0L1139.0 1787.0L1139.0 1794.2L1130.0 1793.2Z" fill="#000" stroke="none"/>
<path d="M722.6 978.6L722.0 980.8L720.4 980.9L720.0 982.9L722.3 983.6L721.2 985.7L719.0 985.3L719.1 987.5L720.4 988.3L719.5 990.3L717.3 989.4L716.6 991.4L718.4 992.9L717.0 994.7L714.8 993.2L713.8 995.1L715.3 996.9L713.6 998.4L711.9 996.7L710.4 998.2L711.6 1000.4L709.0 1000.5L708.2 999.6L706.2 1000.3L706.7 1002.1L704.5 1002.5L703.7 1000.8L701.9 1002.2L702.0 1003.6L699.7 1003.9L699.3 1002.0L697.2 1002.3L697.0 1004.4L694.8 1003.5L694.7 1001.4L692.6 1001.7L691.9 1004.1L689.9 1002.9L690.3 1000.8L688.1 1000.8L687.1 1002.4L685.3 1000.9L685.8 999.5L683.9 998.7L682.8 999.8L681.0 998.4L682.1 996.7L680.1 995.9L678.6 997.0L677.7 994.8L678.5 993.7L677.7 991.8L675.6 992.9L674.5 990.9L676.7 989.5L675.1 987.9L673.6 988.3L672.6 986.3L674.4 985.5L673.6 983.5L671.3 983.7L671.9 981.3L673.5 980.9L673.1 978.8L671.1 978.6L671.7 976.4L673.4 976.3L673.2 974.1L671.7 973.6L672.5 971.4L675.0 971.9L674.7 969.6L673.0 968.7L674.0 966.6L676.1 967.4L677.3 965.7L675.6 964.3L677.1 962.6L679.3 964.1L680.0 962.0L679.0 960.6L680.9 959.4L682.4 960.9L683.4 958.7L682.9 957.5L684.9 956.5L686.0 958.1L687.5 956.4L687.3 955.2L689.4 954.4L690.2 956.2L692.0 954.9L691.9 953.0L694.2 953.0L694.7 955.5L696.8 954.9L697.0 952.9L699.3 952.9L699.3 954.9L701.3 955.6L702.0 953.6L704.1 954.5L703.7 956.5L705.9 956.5L706.9 954.7L708.6 956.3L707.8 958.4L710.0 958.7L711.3 957.3L713.0 958.8L712.1 960.2L713.8 961.5L715.3 960.3L716.6 962.2L715.2 963.6L716.3 965.4L718.8 964.0L719.5 966.3L718.0 967.4L719.2 969.2L720.7 968.8L721.1 971.0L719.0 971.9L720.4 973.7L721.9 973.7L721.8 975.9L720.0 976.3L720.5 978.4Z" stroke-width="1.15" fill="none"/>
<path d="M715.7 983.8l3.2 0l0 2.7l-3.2 0zM713.7 987.1l3.2 0l0 2.7l-3.2 0zM711.3 986.0l3.2 0l0 2.7l-3.2 0zM711.8 991.2l3.2 0l0 2.7l-3.2 0zM710.4 988.2l3.2 0l0 2.7l-3.2 0zM709.8 992.9l3.2 0l0 2.7l-3.2 0zM707.2 994.7l3.2 0l0 2.7l-3.2 0zM706.3 993.6l3.2 0l0 2.7l-3.2 0zM704.3 997.0l3.2 0l0 2.7l-3.2 0zM702.5 993.6l3.2 0l0 2.7l-3.2 0zM700.8 997.8l3.2 0l0 2.7l-3.2 0zM698.2 998.2l3.2 0l0 2.7l-3.2 0zM696.6 996.5l3.2 0l0 2.7l-3.2 0zM694.2 998.3l3.2 0l0 2.7l-3.2 0zM694.4 995.1l3.2 0l0 2.7l-3.2 0zM690.7 999.1l3.2 0l0 2.7l-3.2 0zM687.9 997.7l3.2 0l0 2.7l-3.2 0zM688.0 994.4l3.2 0l0 2.7l-3.2 0zM683.6 996.2l3.2 0l0 2.7l-3.2 0zM685.8 993.7l3.2 0l0 2.7l-3.2 0z" stroke-width="1.0" fill="none"/>
<path d="M1068.9 1976.2L1068.3 1978.4L1066.7 1978.5L1066.3 1980.5L1068.6 1981.2L1067.5 1983.3L1065.3 1982.9L1065.4 1985.1L1066.7 1985.9L1065.8 1987.9L1063.6 1987.0L1062.9 1989.0L1064.7 1990.5L1063.3 1992.3L1061.1 1990.8L1060.1 1992.7L1061.6 1994.5L1059.9 1996.0L1058.2 1994.3L1056.7 1995.8L1057.9 1998.0L1055.3 1998.1L1054.5 1997.2L1052.5 1997.9L1053.0 1999.7L1050.8 2000.1L1050.0 1998.4L1048.2 1999.8L1048.3 2001.2L1046.0 2001.5L1045.6 1999.6L1043.5 1999.9L1043.3 2002.0L1041.1 2001.1L1041.0 1999.0L1038.9 1999.3L1038.2 2001.7L1036.2 2000.5L1036.6 1998.4L1034.4 1998.4L1033.4 2000.0L1031.6 1998.5L1032.1 1997.1L1030.2 1996.3L1029.1 1997.4L1027.3 1996.0L1028.4 1994.3L1026.4 1993.5L1024.9 1994.6L1024.0 1992.4L1024.8 1991.3L1024.0 1989.4L1021.9 1990.5L1020.8 1988.5L1023.0 1987.1L1021.4 1985.5L1019.9 1985.9L1018.9 1983.9L1020.7 1983.1L1019.9 1981.1L1017.6 1981.3L1018.2 1978.9L1019.8 1978.5L1019.4 1976.4L1017.4 1976.2L1018.0 1974.0L1019.7 1973.9L1019.5 1971.7L1018.0 1971.2L1018.8 1969.0L1021.3 1969.5L1021.0 1967.2L1019.3 1966.3L1020.3 1964.2L1022.4 1965.0L1023.6 1963.3L1021.9 1961.9L1023.4 1960.2L1025.6 1961.7L1026.3 1959.6L1025.3 1958.2L1027.2 1957.0L1028.7 1958.5L1029.7 1956.3L1029.2 1955.1L1031.2 1954.1L1032.3 1955.7L1033.8 1954.0L1033.6 1952.8L1035.7 1952.0L1036.5 1953.8L1038.3 1952.5L1038.2 1950.6L1040.5 1950.6L1041.0 1953.1L1043.1 1952.5L1043.3 1950.5L1045.6 1950.5L1045.6 1952.5L1047.6 1953.2L1048.3 1951.2L1050.4 1952.1L1050.0 1954.1L1052.2 1954.1L1053.2 1952.3L1054.9 1953.9L1054.1 1956.0L1056.3 1956.3L1057.6 1954.9L1059.3 1956.4L1058.4 1957.8L1060.1 1959.1L1061.6 1957.9L1062.9 1959.8L1061.5 1961.2L1062.6 1963.0L1065.1 1961.6L1065.8 1963.9L1064.3 1965.0L1065.5 1966.8L1067.0 1966.4L1067.4 1968.6L1065.3 1969.5L1066.7 1971.3L1068.2 1971.3L1068.1 1973.5L1066.3 1973.9L1066.8 1976.0Z" stroke-width="1.15" fill="none"/>
<path d="M1062.0 1981.4l3.2 0l0 2.7l-3.2 0zM1060.0 1984.7l3.2 0l0 2.7l-3.2 0zM1057.6 1983.6l3.2 0l0 2.7l-3.2 0zM1058.1 1988.8l3.2 0l0 2.7l-3.2 0zM1056.7 1985.8l3.2 0l0 2.7l-3.2 0zM1056.1 1990.5l3.2 0l0 2.7l-3.2 0zM1053.5 1992.3l3.2 0l0 2.7l-3.2 0zM1052.6 1991.2l3.2 0l0 2.7l-3.2 0zM1050.6 1994.6l3.2 0l0 2.7l-3.2 0zM1048.8 1991.2l3.2 0l0 2.7l-3.2 0zM1047.1 1995.4l3.2 0l0 2.7l-3.2 0zM1044.5 1995.8l3.2 0l0 2.7l-3.2 0zM1042.9 1994.1l3.2 0l0 2.7l-3.2 0zM1040.5 1995.9l3.2 0l0 2.7l-3.2 0zM1040.7 1992.7l3.2 0l0 2.7l-3.2 0zM1037.0 1996.7l3.2 0l0 2.7l-3.2 0zM1034.2 1995.3l3.2 0l0 2.7l-3.2 0zM1034.3 1992.0l3.2 0l0 2.7l-3.2 0zM1029.9 1993.8l3.2 0l0 2.7l-3.2 0zM1032.1 1991.3l3.2 0l0 2.7l-3.2 0z" stroke-width="1.0" fill="none"/>
<text class="c" font-size="14.8" text-anchor="middle" textLength="51.0" lengthAdjust="spacing" style="stroke-width:0.15" transform="translate(572.6 957.4) rotate(-58.3)" x="0" y="5.3">553.04</text>
<text class="c" font-size="14.8" text-anchor="middle" textLength="51.0" lengthAdjust="spacing" style="stroke-width:0.15" transform="translate(582.8 1045.9) rotate(-59.2)" x="0" y="5.3">553.15</text>
<text class="c" font-size="14.8" text-anchor="middle" textLength="51.0" lengthAdjust="spacing" style="stroke-width:0.15" transform="translate(862.3 962.5) rotate(-59.3)" x="0" y="5.3">553.07</text>
<text class="c" font-size="14.8" text-anchor="middle" textLength="51.0" lengthAdjust="spacing" style="stroke-width:0.15" transform="translate(888.8 1006.1) rotate(-62.2)" x="0" y="5.3">553.18</text>
<text class="c" font-size="14.8" text-anchor="middle" textLength="51.0" lengthAdjust="spacing" style="stroke-width:0.15" transform="translate(1092.1 961.4) rotate(-59.3)" x="0" y="5.3">553.16</text>
<text class="c" font-size="14.8" text-anchor="middle" textLength="51.0" lengthAdjust="spacing" style="stroke-width:0.15" transform="translate(1142.4 997.8) rotate(-58.5)" x="0" y="5.3">553.29</text>
<text class="c" font-size="14.8" text-anchor="middle" textLength="51.0" lengthAdjust="spacing" style="stroke-width:0.15" transform="translate(632.8 1394.4) rotate(-58.5)" x="0" y="5.3">553.46</text>
<text class="c" font-size="14.8" text-anchor="middle" textLength="51.0" lengthAdjust="spacing" style="stroke-width:0.15" transform="translate(1093.2 1465.8) rotate(-56.5)" x="0" y="5.3">553.72</text>
<text class="c" font-size="14.8" text-anchor="middle" textLength="51.0" lengthAdjust="spacing" style="stroke-width:0.15" transform="translate(581.9 1859.0) rotate(-57.3)" x="0" y="5.3">554.48</text>
<text class="c" font-size="14.8" text-anchor="middle" textLength="51.0" lengthAdjust="spacing" style="stroke-width:0.15" transform="translate(571.5 2063.9) rotate(-57.5)" x="0" y="5.3">554.36</text>
<text class="c" font-size="14.8" text-anchor="middle" textLength="50.0" lengthAdjust="spacing" style="stroke-width:0.15" transform="translate(872.1 1992.5) rotate(-57.1)" x="0" y="5.3">554.65</text>
<text class="c" font-size="14.8" text-anchor="middle" textLength="50.0" lengthAdjust="spacing" style="stroke-width:0.15" transform="translate(1081.0 1859.6) rotate(-56.7)" x="0" y="5.3">554.52</text>
<text class="c" font-size="13" text-anchor="middle" style="stroke-width:0.15" transform="translate(872.2 1031.2) rotate(-62)" x="0" y="4.7">+</text>
<text class="c" font-size="13" text-anchor="middle" style="stroke-width:0.15" transform="translate(1111.1 1440.6) rotate(-56)" x="0" y="4.7">+</text>
<text class="c" font-size="13" text-anchor="middle" style="stroke-width:0.15" transform="translate(609.5 1828.9) rotate(-57)" x="0" y="4.7">+</text>
<text class="c" x="797.4" y="1844.6" font-size="15.5" textLength="50.9" lengthAdjust="spacing" style="stroke-width:0.2">554.53</text>
<text class="c" x="1142.4" y="2047.6" font-size="16" textLength="50.4" lengthAdjust="spacing">554.69</text>
<text class="c" x="867.0" y="1836.0" font-size="13" style="stroke-width:0.2">+</text>
<text class="c" x="608.0" y="1033.0" font-size="13" style="stroke-width:0.2">+</text>
<line x1="681.0" y1="1792.6" x2="681.0" y2="2027.0" stroke-width="1.8"/>
<path d="M857.3 1825L852.6 1851.6L851.2 1856.5V2027" stroke-width="2" fill="none"/>
<line x1="852.6" y1="1851.6" x2="937.3" y2="1851.6" stroke-width="1.8"/>
<line x1="937.3" y1="1822.7" x2="937.3" y2="1851.6" stroke-width="1.8"/>
<circle cx="681.0" cy="2027.1" r="6" fill="#000" stroke="none"/>
<circle cx="851.5" cy="2027.1" r="6" fill="#000" stroke="none"/>
<line x1="681.0" y1="2027.0" x2="661.5" y2="2125.8" stroke-width="1.8"/>
<line x1="851.5" y1="2027.0" x2="870.5" y2="2125.8" stroke-width="1.8"/>
<line x1="603.0" y1="2080.6" x2="670.5" y2="2080.6" stroke-width="2"/>
<line x1="862.0" y1="2080.6" x2="1117.5" y2="2080.6" stroke-width="2"/>
<line x1="601.0" y1="2121.0" x2="1120.0" y2="2121.0" stroke-width="1.6"/>
<line x1="601.0" y1="2128.0" x2="1120.0" y2="2128.0" stroke-width="1.6"/>
<line x1="599.0" y1="2117.0" x2="606.0" y2="2133.0" stroke-width="1"/>
<line x1="597.0" y1="2122.5" x2="606.0" y2="2121.5" stroke-width="1"/>
<line x1="1117.0" y1="2113.0" x2="1123.0" y2="2131.0" stroke-width="1"/>
<line x1="1114.0" y1="2121.0" x2="1124.0" y2="2119.0" stroke-width="1"/>
<line x1="866.0" y1="2119.0" x2="873.0" y2="2133.0" stroke-width="1"/>
<line x1="863.0" y1="2123.0" x2="874.0" y2="2127.0" stroke-width="1"/>
<line x1="902.4" y1="1826.0" x2="902.4" y2="1932.3" stroke-width="1.2"/>
<line x1="902.4" y1="1981.5" x2="902.4" y2="2079.0" stroke-width="1.2"/>
<path d="M902.4 1825.5L905.2 1834.0L906.3 1842.5L898.5 1842.5L899.6 1834.0Z" fill="#000" stroke="none"/>
<path d="M902.2 2080.0L899.6 2071.0L898.6 2062.0L905.8 2062.0L904.8 2071.0Z" fill="#000" stroke="none"/>
<text class="c" font-size="16.5" text-anchor="middle" textLength="44.0" lengthAdjust="spacing" transform="translate(902.6 1957.0) rotate(-90)" x="0" y="5.9">25.9’</text>
<text class="c" x="755.4" y="1898.0" font-size="17" textLength="20.6" lengthAdjust="spacingAndGlyphs">17’</text>
<text class="c" x="745.0" y="1915.5" font-size="17" textLength="41.7" lengthAdjust="spacingAndGlyphs">CONC.</text>
<text class="c" x="746.7" y="1931.5" font-size="17" textLength="39.3" lengthAdjust="spacingAndGlyphs">DRIVE</text>
<text class="c" x="706.8" y="1929.4" font-size="17" textLength="30.4" lengthAdjust="spacingAndGlyphs" transform="rotate(-90 706.8 1929.4)">2.2%</text>
<text class="c" x="724.8" y="1936.4" font-size="17" textLength="44.4" lengthAdjust="spacingAndGlyphs" transform="rotate(-90 724.8 1936.4)">SLOPE</text>
<path d="M708.8 1891V1959.7L699.2 1941H708.8" stroke-width="1.1" fill="none"/>
<text class="c" x="821.4" y="1927.7" font-size="17" textLength="30.4" lengthAdjust="spacingAndGlyphs" transform="rotate(-90 821.4 1927.7)">2.0%</text>
<text class="c" x="840.0" y="1934.7" font-size="17" textLength="43.5" lengthAdjust="spacingAndGlyphs" transform="rotate(-90 840.0 1934.7)">SLOPE</text>
<path d="M823.4 1890.4V1959L814.8 1939.5H823.4" stroke-width="1.1" fill="none"/>
<text class="c" x="948.8" y="1893.6" font-size="17" textLength="63.2" lengthAdjust="spacingAndGlyphs">3’  CONC.</text>
<text class="c" x="961.7" y="1910.3" font-size="17" textLength="37.5" lengthAdjust="spacingAndGlyphs">WALK</text>
<path d="M948.2 1885.7C928 1886 930 1868 921 1855" stroke-width="1.2" fill="none"/>
<path d="M911.7 1841.2L920.1 1848.8L927.2 1857.3L920.9 1861.6L915.6 1851.8Z" fill="#000" stroke="none"/>
<text class="c" x="927.0" y="2109.0" font-size="16.5" textLength="110.4" lengthAdjust="spacingAndGlyphs">4’  CONC.  WALK</text>
<text class="c" x="964.7" y="2147.8" font-size="16.5" textLength="37.6" lengthAdjust="spacingAndGlyphs">CURB</text>
<text class="b" x="610.0" y="1986.8" font-size="13.5" textLength="29.0" lengthAdjust="spacing">WM.</text>
<path d="M609.4 1990L640 2014.6V1990L609.4 2014.6Z" stroke-width="2.2" fill="none"/>
<text class="b" x="1056.2" y="2067.4" font-size="13.5" textLength="26.1" lengthAdjust="spacing">WV.</text>
<path d="M1091 2047.6L1123.3 2072V2047.6L1091 2072Z" stroke-width="2.2" fill="none"/>
<circle cx="1101.4" cy="2011.8" r="4" fill="#000" stroke="none"/>
<line x1="1101.4" y1="2011.8" x2="1117.0" y2="2027.0" stroke-width="1.2"/>
<circle cx="1100" cy="1886" r="7.3" stroke-width="2"/>
<circle cx="1125.7" cy="1925" r="6.8" stroke-width="2"/>
<rect x="1076.7" y="1908.2" width="30.9" height="19.8" stroke-width="2"/>
<rect x="1073.6" y="1961" width="15.3" height="9.8" stroke-width="1.8"/>
<rect x="1111" y="1964.2" width="15" height="9.4" stroke-width="1.8"/>
<text class="c" x="1177.8" y="1850.5" font-size="17" textLength="37.6" lengthAdjust="spacingAndGlyphs">CATV</text>
<text class="c" x="1159.8" y="1868.6" font-size="17" textLength="72.2" lengthAdjust="spacingAndGlyphs">PEDESTAL</text>
<path d="M1176.5 1844.3C1150 1844 1135 1864 1115 1876" stroke-width="1.2" fill="none"/>
<path d="M1100.3 1886.0L1106.9 1878.4L1114.5 1872.1L1118.7 1878.5L1110.0 1882.9Z" fill="#000" stroke="none"/>
<text class="c" x="1144.0" y="1893.0" font-size="17" textLength="74.0" lengthAdjust="spacingAndGlyphs">SPECTRUM</text>
<text class="c" x="1166.0" y="1911.4" font-size="17" textLength="28.5" lengthAdjust="spacingAndGlyphs">BOX</text>
<path d="M1143 1887.7C1130 1888 1122 1899 1110 1907.5" stroke-width="1.2" fill="none"/>
<path d="M1091.0 1918.2L1099.1 1910.2L1108.1 1903.8L1112.1 1910.8L1102.0 1915.3Z" fill="#000" stroke="none"/>
<text class="c" x="1185.0" y="1945.0" font-size="17" textLength="33.9" lengthAdjust="spacingAndGlyphs">TELE.</text>
<text class="c" x="1165.0" y="1963.5" font-size="17" textLength="71.0" lengthAdjust="spacingAndGlyphs">PEDESTAL</text>
<path d="M1184 1938H1176C1165 1937 1155 1933 1145 1930.2" stroke-width="1.2" fill="none"/>
<path d="M1125.7 1925.6L1136.1 1925.2L1146.0 1926.4L1144.3 1933.8L1134.8 1930.5Z" fill="#000" stroke="none"/>
<text class="c" x="1168.5" y="1988.5" font-size="17" textLength="37.2" lengthAdjust="spacingAndGlyphs">ELEC.</text>
<text class="c" x="1172.0" y="2007.0" font-size="17" textLength="29.5" lengthAdjust="spacingAndGlyphs">BOX</text>
<path d="M1166 1982.4H1156C1148 1984.5 1137.5 1984.4 1120 1978.4L1099 1971.5M1166 1982.4C1155 1980 1148 1977 1138 1974.2" stroke-width="1.2" fill="none"/>
<path d="M1080.0 1966.4L1090.3 1966.5L1100.3 1968.1L1098.4 1975.1L1089.0 1971.5Z" fill="#000" stroke="none"/>
<path d="M1118.8 1969.0L1129.1 1969.1L1139.1 1970.7L1137.2 1977.7L1127.8 1974.1Z" fill="#000" stroke="none"/>
<path d="M1187.7 2080.6L1242.3 2080.6L1245 2120L1188.6 2120Z" stroke-width="2" fill="none"/>
<path d="M1250 2151.3C1230 2152 1228 2135 1220.7 2114.8" stroke-width="1.2" fill="none"/>
<path d="M1213.0 2094.6L1219.6 2103.9L1224.5 2113.8L1216.6 2116.7L1213.9 2106.0Z" fill="#000" stroke="none"/>
<text class="c" x="1251.0" y="2158.2" font-size="17" textLength="41.7" lengthAdjust="spacingAndGlyphs">CONC.</text>
<text class="c" x="1252.7" y="2176.3" font-size="17" textLength="38.6" lengthAdjust="spacingAndGlyphs">RAMP</text>
<text class="c" style="stroke-width:0.15" font-size="14.5" transform="translate(575.7 2184.9) rotate(-52)" x="0" y="0" textLength="52" lengthAdjust="spacingAndGlyphs">T.O.C.=</text>
<text class="c" style="stroke-width:0.15" font-size="14.5" transform="translate(590.7 2186.9) rotate(-52)" x="0" y="0" textLength="50.5" lengthAdjust="spacingAndGlyphs">554.63</text>
<text class="c" style="stroke-width:0.15" font-size="14.5" transform="translate(606.7 2183.9) rotate(-52)" x="0" y="0" textLength="43.5" lengthAdjust="spacingAndGlyphs">GUT.=</text>
<text class="c" style="stroke-width:0.15" font-size="14.5" transform="translate(619.7 2193.9) rotate(-52)" x="0" y="0" textLength="50.5" lengthAdjust="spacingAndGlyphs">554.18</text>
<text class="c" style="stroke-width:0.15" font-size="14.5" transform="translate(814.8 2184.9) rotate(-52)" x="0" y="0" textLength="52" lengthAdjust="spacingAndGlyphs">T.O.C.=</text>
<text class="c" style="stroke-width:0.15" font-size="14.5" transform="translate(828.8 2186.9) rotate(-52)" x="0" y="0" textLength="50.5" lengthAdjust="spacingAndGlyphs">554.71</text>
<text class="c" style="stroke-width:0.15" font-size="14.5" transform="translate(845.8 2183.9) rotate(-52)" x="0" y="0" textLength="43.5" lengthAdjust="spacingAndGlyphs">GUT.=</text>
<text class="c" style="stroke-width:0.15" font-size="14.5" transform="translate(859.8 2190.2) rotate(-52)" x="0" y="0" textLength="50.5" lengthAdjust="spacingAndGlyphs">554.27</text>
<text class="c" style="stroke-width:0.15" font-size="14.5" transform="translate(1108.6 2184.9) rotate(-52)" x="0" y="0" textLength="52" lengthAdjust="spacingAndGlyphs">T.O.C.=</text>
<text class="c" style="stroke-width:0.15" font-size="14.5" transform="translate(1123.6 2185.3) rotate(-52)" x="0" y="0" textLength="50.5" lengthAdjust="spacingAndGlyphs">554.71</text>
<text class="c" style="stroke-width:0.15" font-size="14.5" transform="translate(1139.6 2183.9) rotate(-52)" x="0" y="0" textLength="43.5" lengthAdjust="spacingAndGlyphs">GUT.=</text>
<text class="c" style="stroke-width:0.15" font-size="14.5" transform="translate(1152.4 2190.6) rotate(-52)" x="0" y="0" textLength="50.5" lengthAdjust="spacingAndGlyphs">554.34</text>
<text class="c" x="739.9" y="2259.0" font-size="34.5" textLength="233.9" lengthAdjust="spacingAndGlyphs" style="stroke-width:0.90">MAESTRO  DR</text>
<line x1="601.9" y1="2277.0" x2="710.3" y2="2277.0" stroke-width="2"/>
<line x1="734.0" y1="2277.0" x2="760.0" y2="2277.0" stroke-width="2"/>
<line x1="784.4" y1="2277.0" x2="935.2" y2="2277.0" stroke-width="2"/>
<line x1="959.5" y1="2277.0" x2="985.6" y2="2277.0" stroke-width="2"/>
<line x1="1009.0" y1="2277.0" x2="1117.5" y2="2277.0" stroke-width="2"/>
<text class="n" x="784.4" y="2309.4" font-size="25" textLength="144.9" lengthAdjust="spacingAndGlyphs">(50’  R.O.W.)</text>
<path d="M309.7 1192.4L330.5 1158.0L369.5 1158.0L389.6 1192.4L369.5 1226.8L330.5 1226.8Z M309.7 1192.4L389.6 1192.4" stroke-width="2" fill="none"/>
<text class="n" x="349.6" y="1185.6" font-size="23" text-anchor="middle">31</text>
<text class="n" x="349.6" y="1219.2" font-size="23" text-anchor="middle">22</text>
<text class="n" x="284.3" y="1252.0" font-size="23" textLength="100.7" lengthAdjust="spacing">E=553.3</text>
<text class="n" x="284.3" y="1276.0" font-size="23" textLength="95.7" lengthAdjust="spacing">F=554.1</text>
<path d="M1368.4 1194.7L1388.6 1160.0L1429.3 1160.0L1448.4 1194.7L1429.3 1229.3L1388.6 1229.3Z M1368.4 1194.7L1448.4 1194.7" stroke-width="2" fill="none"/>
<text class="n" x="1408.4" y="1187.9" font-size="23" text-anchor="middle">30</text>
<text class="n" x="1408.4" y="1221.7" font-size="23" text-anchor="middle">22</text>
<text class="n" x="1344.0" y="1254.0" font-size="23" textLength="101.0" lengthAdjust="spacing">E=553.4</text>
<text class="n" x="1344.0" y="1278.0" font-size="23" textLength="94.7" lengthAdjust="spacing">F=554.1</text>
<path d="M301.7 1737.2L321.8 1703.3L362.5 1703.3L382.3 1737.2L362.5 1771.0L321.8 1771.0Z M301.7 1737.2L382.3 1737.2" stroke-width="2" fill="none"/>
<text class="n" x="342.0" y="1730.4" font-size="23" text-anchor="middle">17</text>
<text class="n" x="342.0" y="1763.4" font-size="23" text-anchor="middle">10</text>
<text class="n" x="276.3" y="1797.0" font-size="23" textLength="100.7" lengthAdjust="spacing">E=554.5</text>
<text class="n" x="276.3" y="1820.0" font-size="23" textLength="94.7" lengthAdjust="spacing">F=555.1</text>
<path d="M1491.3 1750.1L1511.8 1716.0L1552.2 1716.0L1572.7 1750.1L1552.2 1784.2L1511.8 1784.2Z M1491.3 1750.1L1572.7 1750.1" stroke-width="2" fill="none"/>
<text class="n" x="1532.0" y="1743.3" font-size="23" text-anchor="middle">17</text>
<text class="n" x="1532.0" y="1776.6" font-size="23" text-anchor="middle">11</text>
<text class="n" x="1466.8" y="1809.5" font-size="23" textLength="100.2" lengthAdjust="spacing">E=554.5</text>
<text class="n" x="1466.8" y="1833.4" font-size="23" textLength="100.2" lengthAdjust="spacing">F=555.0</text>
<text class="g" x="236.7" y="1375.6" font-size="34.5" textLength="151.3" lengthAdjust="spacing" style="stroke-width:1.7">LOT  392</text>
<text class="g" x="1319.0" y="1375.6" font-size="34.5" textLength="151.0" lengthAdjust="spacing" style="stroke-width:1.7">LOT  390</text>
<text class="s" x="237.4" y="1434.7" font-size="44" textLength="149.4" lengthAdjust="spacing" style="stroke:#fff;stroke-width:0.62">BLOCK</text>
<text class="s" x="1373.7" y="1434.7" font-size="44" textLength="48.6" lengthAdjust="spacing" style="stroke:#fff;stroke-width:0.62">21</text>
<g stroke="#808080" stroke-width="1.9">
<line x1="60.0" y1="2144.1" x2="472.0" y2="2144.1" stroke-width="1.9"/>
<line x1="60.0" y1="2175.4" x2="472.0" y2="2175.4" stroke-width="1.9"/>
<line x1="60.0" y1="2206.6" x2="472.0" y2="2206.6" stroke-width="1.9"/>
<line x1="60.0" y1="2237.9" x2="472.0" y2="2237.9" stroke-width="1.9"/>
<line x1="60.0" y1="2269.2" x2="472.0" y2="2269.2" stroke-width="1.9"/>
<line x1="60.0" y1="2300.5" x2="472.0" y2="2300.5" stroke-width="1.9"/>
<line x1="60.0" y1="2331.8" x2="472.0" y2="2331.8" stroke-width="1.9"/>
<line x1="60.0" y1="2363.0" x2="472.0" y2="2363.0" stroke-width="1.9"/>
<line x1="60.0" y1="2394.3" x2="472.0" y2="2394.3" stroke-width="1.9"/>
<line x1="60.0" y1="2425.6" x2="472.0" y2="2425.6" stroke-width="1.9"/>
<line x1="60.0" y1="2456.9" x2="472.0" y2="2456.9" stroke-width="1.9"/>
<line x1="60.0" y1="2488.2" x2="472.0" y2="2488.2" stroke-width="1.9"/>
<line x1="60.0" y1="2519.4" x2="472.0" y2="2519.4" stroke-width="1.9"/>
<line x1="60.0" y1="2550.7" x2="472.0" y2="2550.7" stroke-width="1.9"/>
<line x1="60.0" y1="2582.0" x2="472.0" y2="2582.0" stroke-width="1.9"/>
<line x1="60.0" y1="2613.3" x2="472.0" y2="2613.3" stroke-width="1.9"/>
<line x1="60.0" y1="2644.6" x2="472.0" y2="2644.6" stroke-width="1.9"/>
<line x1="60.0" y1="2675.8" x2="472.0" y2="2675.8" stroke-width="1.9"/>
<line x1="60.0" y1="2707.1" x2="472.0" y2="2707.1" stroke-width="1.9"/>
<line x1="333.0" y1="2112.8" x2="333.0" y2="2739.0" stroke-width="1.9"/>
</g>
<line x1="66.0" y1="2081.6" x2="471.8" y2="2081.6" stroke-width="1.2"/>
<line x1="471.6" y1="2081.6" x2="471.6" y2="2734.5" stroke-width="1.2"/>
<line x1="66.0" y1="2112.5" x2="471.8" y2="2112.5" stroke-width="1.3"/>
<text class="n" x="75.8" y="2136.8" font-size="26" textLength="95.6" lengthAdjust="spacingAndGlyphs">DRIVEWAY</text>
<text class="n" x="467.6" y="2137.8" font-size="26" text-anchor="end" textLength="106.0" lengthAdjust="spacingAndGlyphs">402 SQ. FT.</text>
<text class="n" x="75.8" y="2168.1" font-size="26" textLength="102.2" lengthAdjust="spacingAndGlyphs">APPROACH</text>
<text class="n" x="467.6" y="2169.1" font-size="26" text-anchor="end" textLength="105.0" lengthAdjust="spacingAndGlyphs">192 SQ. FT.</text>
<text class="n" x="75.8" y="2199.3" font-size="26" textLength="107.8" lengthAdjust="spacingAndGlyphs">LEAD WALK</text>
<text class="n" x="467.6" y="2200.3" font-size="26" text-anchor="end" textLength="94.5" lengthAdjust="spacingAndGlyphs">25 SQ. FT.</text>
<text class="n" x="75.8" y="2230.6" font-size="26" textLength="128.3" lengthAdjust="spacingAndGlyphs">PUBLIC WALK</text>
<text class="n" x="467.6" y="2231.6" font-size="26" text-anchor="end" textLength="105.0" lengthAdjust="spacingAndGlyphs">126 SQ. FT.</text>
<text class="n" x="75.8" y="2261.9" font-size="26" textLength="52.8" lengthAdjust="spacingAndGlyphs">PATIO</text>
<text class="n" x="467.6" y="2262.9" font-size="26" text-anchor="end" textLength="31.3" lengthAdjust="spacingAndGlyphs">N/A</text>
<text class="n" x="75.8" y="2293.2" font-size="26" textLength="107.4" lengthAdjust="spacingAndGlyphs">HVAC PADS</text>
<text class="n" x="467.6" y="2294.2" font-size="26" text-anchor="end" textLength="93.2" lengthAdjust="spacingAndGlyphs">16 SQ. FT.</text>
<text class="n" x="75.8" y="2324.5" font-size="26" textLength="57.4" lengthAdjust="spacingAndGlyphs">TOTAL</text>
<text class="n" x="467.6" y="2325.5" font-size="26" text-anchor="end" textLength="106.0" lengthAdjust="spacingAndGlyphs">761 SQ. FT.</text>
<text class="n" x="75.8" y="2387.0" font-size="26" textLength="107.4" lengthAdjust="spacingAndGlyphs">FRONT SOD</text>
<text class="n" x="467.6" y="2388.0" font-size="26" text-anchor="end" textLength="105.0" lengthAdjust="spacingAndGlyphs">118SQ. YD.</text>
<text class="n" x="75.8" y="2418.3" font-size="26" textLength="94.5" lengthAdjust="spacingAndGlyphs">REAR SOD</text>
<text class="n" x="467.6" y="2419.3" font-size="26" text-anchor="end" textLength="105.0" lengthAdjust="spacingAndGlyphs">184SQ. YD.</text>
<text class="n" x="75.8" y="2480.9" font-size="26" textLength="125.8" lengthAdjust="spacingAndGlyphs">TOTAL FENCE</text>
<text class="n" x="467.6" y="2481.9" font-size="26" text-anchor="end" textLength="105.0" lengthAdjust="spacingAndGlyphs">129 LN. FT.</text>
<text class="n" x="75.8" y="2543.4" font-size="26" textLength="191.9" lengthAdjust="spacingAndGlyphs">AVERAGE EXPOSURE</text>
<text class="n" x="467.6" y="2544.4" font-size="26" text-anchor="end" textLength="28.8" lengthAdjust="spacingAndGlyphs">24"</text>
<text class="n" x="75.8" y="2574.7" font-size="26" textLength="121.7" lengthAdjust="spacingAndGlyphs">DRIVE SLOPE</text>
<text class="n" x="467.6" y="2575.7" font-size="26" text-anchor="end" textLength="45.2" lengthAdjust="spacingAndGlyphs">2.2%</text>
<text class="n" x="75.8" y="2606.0" font-size="26" textLength="224.9" lengthAdjust="spacingAndGlyphs">IMPERVIOUS COVERAGE</text>
<text class="n" x="467.6" y="2607.0" font-size="26" text-anchor="end" textLength="123.4" lengthAdjust="spacingAndGlyphs">2,602 SQ. FT.</text>
<text class="n" x="75.8" y="2637.3" font-size="26" textLength="245.0" lengthAdjust="spacingAndGlyphs">IMPERVIOUS COVERAGE %</text>
<text class="n" x="467.6" y="2638.3" font-size="26" text-anchor="end" textLength="38.2" lengthAdjust="spacingAndGlyphs">46%</text>
<text class="n" x="75.8" y="2668.5" font-size="26" textLength="102.5" lengthAdjust="spacingAndGlyphs">SLAB AREA</text>
<text class="n" x="467.6" y="2669.5" font-size="26" text-anchor="end" textLength="123.4" lengthAdjust="spacingAndGlyphs">2,160 SQ. FT.</text>
<text class="n" x="75.8" y="2699.8" font-size="26" textLength="88.6" lengthAdjust="spacingAndGlyphs">LOT AREA</text>
<text class="n" x="467.6" y="2700.8" font-size="26" text-anchor="end" textLength="123.4" lengthAdjust="spacingAndGlyphs">5,655 SQ. FT.</text>
<text x="206.7" y="2104.4" font-size="27" textLength="18.2" lengthAdjust="spacingAndGlyphs" style="font-weight:bold;fill:#fff;stroke:#000;stroke-width:1.25px">A</text>
<text x="233.6" y="2104.4" font-size="27" textLength="14.0" lengthAdjust="spacingAndGlyphs" style="font-weight:bold;fill:#fff;stroke:#000;stroke-width:1.25px">R</text>
<text x="255.6" y="2104.4" font-size="27" textLength="11.3" lengthAdjust="spacingAndGlyphs" style="font-weight:bold;fill:#fff;stroke:#000;stroke-width:1.25px">E</text>
<text x="275.2" y="2104.4" font-size="27" textLength="17.6" lengthAdjust="spacingAndGlyphs" style="font-weight:bold;fill:#fff;stroke:#000;stroke-width:1.25px">A</text>
<text x="301.2" y="2104.4" font-size="27" textLength="10.9" lengthAdjust="spacingAndGlyphs" style="font-weight:bold;fill:#fff;stroke:#000;stroke-width:1.25px">S</text>
<text class="sb" x="669.5" y="2422.6" font-size="23" textLength="192.8" lengthAdjust="spacing">SITE  PLAN  OF</text>
<text class="sb" x="639.8" y="2449.4" font-size="23" textLength="253.2" lengthAdjust="spacing">2129  MAESTRO  DR</text>
<text class="sb" x="634.5" y="2475.2" font-size="23" textLength="264.7" lengthAdjust="spacing">LOT  391,  BLOCK  21</text>
<text class="s" x="487.8" y="2509.2" font-size="37" textLength="559.2" lengthAdjust="spacing" style="stroke:#fff;stroke-width:0.52">HIDDENBROOKE  SUBDIVISION,</text>
<text class="s" x="699.6" y="2544.7" font-size="37" textLength="131.7" lengthAdjust="spacing" style="stroke:#fff;stroke-width:0.52">UNIT  3</text>
<text class="sb" x="654.7" y="2573.4" font-size="23" textLength="220.3" lengthAdjust="spacing">CITY  OF  SEGUIN</text>
<text class="sb" x="576.4" y="2599.0" font-size="23" textLength="377.7" lengthAdjust="spacing">GUADALUPE  COUNTY,  TEXAS</text>
<text class="n" x="659.4" y="2657.2" font-size="20" textLength="108.6" lengthAdjust="spacingAndGlyphs">DRAWN  BY:</text>
<text class="n" x="798.0" y="2653.8" font-size="19" textLength="36.3" lengthAdjust="spacing">P.K.</text>
<line x1="780.0" y1="2658.2" x2="847.2" y2="2658.2" stroke-width="1.4"/>
<text class="n" x="659.4" y="2684.6" font-size="20" textLength="50.0" lengthAdjust="spacingAndGlyphs">DATE:</text>
<text class="n" x="749.6" y="2682.5" font-size="19" textLength="114.7" lengthAdjust="spacing">8/22/2024</text>
<line x1="721.8" y1="2686.4" x2="881.4" y2="2686.4" stroke-width="1.4"/>
<line x1="1055.0" y1="2606.1" x2="1633.6" y2="2606.1" stroke-width="4.8"/>
<path d="M1119.8 2680.9A110.6 110.6 0 1 1 1272.7 2681.5L1258.1 2666.1A89.4 89.4 0 1 0 1134.5 2665.6Z" fill="#d8592c" stroke="#000" stroke-width="1.5"/>
<path d="M1262.6 2690.4A110.9 110.9 0 0 1 1130.6 2690.4L1143.5 2673.0A89.2 89.2 0 0 0 1249.7 2673.0Z" fill="#231f20" stroke="#000" stroke-width="0.4"/>
<circle cx="1196.6" cy="2601.3" r="63.1" stroke="#231f20" stroke-width="17.2"/>
<path d="M1196.6 2465.5V2738.5" stroke="#231f20" stroke-width="10.8" stroke-linecap="round"/>
<path d="M1183 2555.1H1210.8L1225.9 2569.9V2583H1209V2571.7H1184.2V2587.3L1189.9 2591.6H1216L1225.9 2601.2V2631.6L1210.8 2645.9H1183L1167.3 2631.6V2618.6H1184.2V2625.5L1188.2 2629H1204.7L1209 2624.7V2607.3H1183L1167.3 2593.4V2569.9Z" fill="#d8592c" stroke="#000" stroke-width="1"/>
<line x1="1208.5" y1="2608.0" x2="1226.0" y2="2608.0" stroke-width="2.6"/>
<text class="n" x="1352.3" y="2565.0" font-size="26" textLength="223.3" lengthAdjust="spacing">SINCLAIR  LAND</text>
<text class="n" x="1348.0" y="2594.0" font-size="26" textLength="243.9" lengthAdjust="spacing">SURVEYING,  INC.</text>
<text class="n" x="1368.6" y="2630.4" font-size="20" textLength="189.0" lengthAdjust="spacingAndGlyphs">3411  MAGIC  DRIVE</text>
<text class="n" x="1319.0" y="2652.6" font-size="20" textLength="287.8" lengthAdjust="spacingAndGlyphs">SAN  ANTONIO,  TEXAS  78229</text>
<text class="n" x="1387.4" y="2674.0" font-size="20" textLength="151.0" lengthAdjust="spacing">210–341–4518</text>
<text class="n" x="1327.5" y="2693.3" font-size="19.5" textLength="272.1" lengthAdjust="spacing">TBPELS  FIRM  NO.10089000</text>
<text class="n" x="1319.0" y="2716.0" font-size="20" textLength="287.8" lengthAdjust="spacing">JOB  NUMBER:  S–202477197</text>
</svg></body></html>
